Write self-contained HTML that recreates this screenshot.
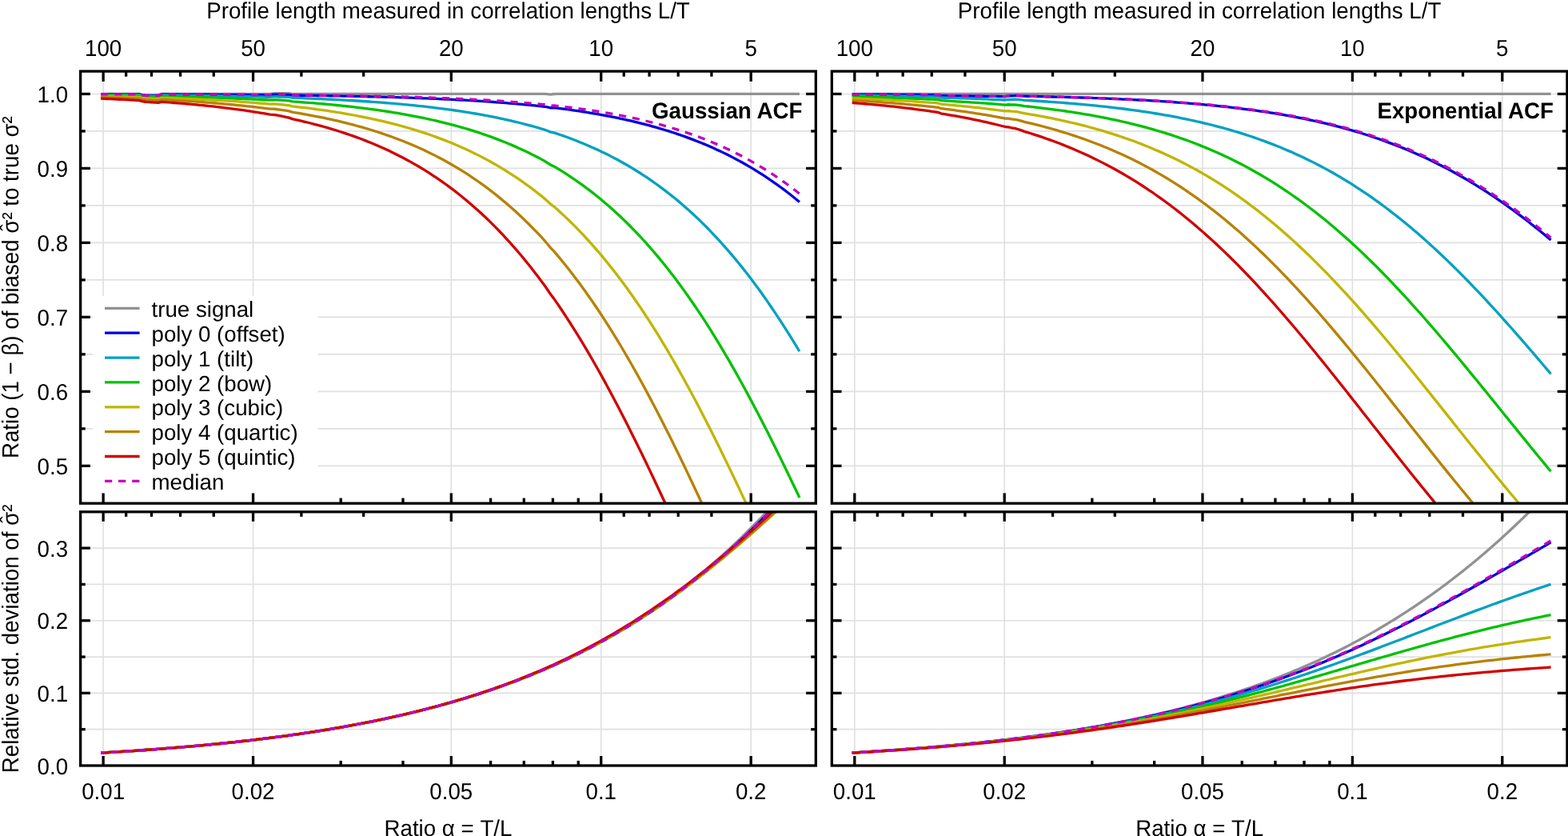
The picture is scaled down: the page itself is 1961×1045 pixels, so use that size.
<!DOCTYPE html>
<html lang="en"><head><meta charset="utf-8"><title>Variance bias vs. T/L</title>
<style>html,body{margin:0;padding:0;background:#fff}svg{display:block}</style></head>
<body>
<svg width="1961" height="1045" viewBox="0 0 1961 1045" font-family='"Liberation Sans", sans-serif' font-size="27.7" fill="#000" text-rendering="geometricPrecision">
<rect width="1961" height="1045" fill="#fff"/>
<defs>
<clipPath id="ct0"><rect x="100.65" y="89.10" width="919.65" height="540.10"/></clipPath>
<clipPath id="cb0"><rect x="100.65" y="639.80" width="919.65" height="317.20"/></clipPath>
<clipPath id="ct1"><rect x="1040.30" y="89.10" width="919.65" height="540.10"/></clipPath>
<clipPath id="cb1"><rect x="1040.30" y="639.80" width="919.65" height="317.20"/></clipPath>
</defs>
<line x1="129.14" y1="89.1" x2="129.14" y2="629.2" stroke="#e0e0e0" stroke-width="1.65"/>
<line x1="129.14" y1="639.8" x2="129.14" y2="957" stroke="#e0e0e0" stroke-width="1.65"/>
<line x1="316.56" y1="89.1" x2="316.56" y2="629.2" stroke="#e0e0e0" stroke-width="1.65"/>
<line x1="316.56" y1="639.8" x2="316.56" y2="957" stroke="#e0e0e0" stroke-width="1.65"/>
<line x1="564.31" y1="89.1" x2="564.31" y2="629.2" stroke="#e0e0e0" stroke-width="1.65"/>
<line x1="564.31" y1="639.8" x2="564.31" y2="957" stroke="#e0e0e0" stroke-width="1.65"/>
<line x1="751.73" y1="89.1" x2="751.73" y2="629.2" stroke="#e0e0e0" stroke-width="1.65"/>
<line x1="751.73" y1="639.8" x2="751.73" y2="957" stroke="#e0e0e0" stroke-width="1.65"/>
<line x1="939.15" y1="89.1" x2="939.15" y2="629.2" stroke="#e0e0e0" stroke-width="1.65"/>
<line x1="939.15" y1="639.8" x2="939.15" y2="957" stroke="#e0e0e0" stroke-width="1.65"/>
<line x1="100.65" y1="582.35" x2="1020.3" y2="582.35" stroke="#e0e0e0" stroke-width="1.65"/>
<line x1="100.65" y1="535.86" x2="1020.3" y2="535.86" stroke="#e0e0e0" stroke-width="1.65"/>
<line x1="100.65" y1="489.37" x2="1020.3" y2="489.37" stroke="#e0e0e0" stroke-width="1.65"/>
<line x1="100.65" y1="442.88" x2="1020.3" y2="442.88" stroke="#e0e0e0" stroke-width="1.65"/>
<line x1="100.65" y1="396.39" x2="1020.3" y2="396.39" stroke="#e0e0e0" stroke-width="1.65"/>
<line x1="100.65" y1="349.9" x2="1020.3" y2="349.9" stroke="#e0e0e0" stroke-width="1.65"/>
<line x1="100.65" y1="303.41" x2="1020.3" y2="303.41" stroke="#e0e0e0" stroke-width="1.65"/>
<line x1="100.65" y1="256.92" x2="1020.3" y2="256.92" stroke="#e0e0e0" stroke-width="1.65"/>
<line x1="100.65" y1="210.43" x2="1020.3" y2="210.43" stroke="#e0e0e0" stroke-width="1.65"/>
<line x1="100.65" y1="163.94" x2="1020.3" y2="163.94" stroke="#e0e0e0" stroke-width="1.65"/>
<line x1="100.65" y1="117.45" x2="1020.3" y2="117.45" stroke="#e0e0e0" stroke-width="1.65"/>
<line x1="100.65" y1="911.69" x2="1020.3" y2="911.69" stroke="#e0e0e0" stroke-width="1.65"/>
<line x1="100.65" y1="866.37" x2="1020.3" y2="866.37" stroke="#e0e0e0" stroke-width="1.65"/>
<line x1="100.65" y1="821.06" x2="1020.3" y2="821.06" stroke="#e0e0e0" stroke-width="1.65"/>
<line x1="100.65" y1="775.74" x2="1020.3" y2="775.74" stroke="#e0e0e0" stroke-width="1.65"/>
<line x1="100.65" y1="730.43" x2="1020.3" y2="730.43" stroke="#e0e0e0" stroke-width="1.65"/>
<line x1="100.65" y1="685.11" x2="1020.3" y2="685.11" stroke="#e0e0e0" stroke-width="1.65"/>
<polyline points="126.04,117.45 130.03,117.45 134.02,117.45 138.01,117.45 142.00,117.45 145.99,117.45 149.98,117.45 153.97,117.45 157.96,117.45 161.95,117.45 165.94,117.45 169.93,117.45 173.92,117.45 177.91,118.34 181.90,118.85 185.89,118.85 189.88,118.85 193.87,118.85 197.86,118.85 201.85,117.52 205.84,117.45 209.83,117.45 213.82,117.45 217.81,117.45 221.80,117.45 225.79,117.45 229.78,117.45 233.77,117.45 237.76,117.45 241.75,117.45 245.74,117.45 249.73,117.45 253.72,117.45 257.71,117.45 261.70,117.45 265.70,117.45 269.69,117.45 273.68,117.45 277.67,117.45 281.66,117.45 285.65,117.45 289.64,117.45 293.63,117.45 297.62,117.45 301.61,117.45 305.60,117.45 309.59,117.45 313.58,117.45 317.57,117.45 321.56,117.45 325.55,117.45 329.54,117.45 333.53,117.45 337.52,117.45 341.51,116.86 345.50,116.75 349.49,116.75 353.48,116.75 357.47,116.75 361.46,116.75 365.45,117.45 369.44,117.45 373.43,117.45 377.42,117.45 381.41,117.45 385.40,117.45 389.39,117.45 393.38,117.45 397.37,117.45 401.36,117.45 405.35,117.45 409.34,117.45 413.33,117.45 417.32,117.45 421.31,117.45 425.30,117.45 429.29,117.45 433.28,117.45 437.27,117.45 441.26,117.45 445.25,117.45 449.24,117.45 453.23,117.45 457.22,117.45 461.21,117.45 465.20,117.45 469.19,117.45 473.19,117.45 477.18,117.45 481.17,117.45 485.16,117.45 489.15,117.45 493.14,117.45 497.13,117.45 501.12,117.45 505.11,117.45 509.10,117.45 513.09,117.45 517.08,117.45 521.07,117.45 525.06,117.45 529.05,117.45 533.04,117.45 537.03,117.45 541.02,117.45 545.01,117.45 549.00,117.45 552.99,117.45 556.98,117.45 560.97,117.45 564.96,117.45 568.95,117.45 572.94,117.45 576.93,117.45 580.92,117.45 584.91,117.45 588.90,117.45 592.89,117.45 596.88,117.45 600.87,117.45 604.86,117.45 608.85,117.45 612.84,117.45 616.83,117.45 620.82,117.45 624.81,117.45 628.80,117.45 632.79,117.45 636.78,117.45 640.77,117.45 644.76,117.45 648.75,117.45 652.74,117.45 656.73,117.45 660.72,117.45 664.71,117.45 668.70,117.45 672.69,117.45 676.68,117.45 680.68,117.45 684.67,117.70 688.66,118.05 692.65,117.50 696.64,117.45 700.63,117.45 704.62,117.45 708.61,117.45 712.60,117.45 716.59,117.45 720.58,117.45 724.57,117.45 728.56,117.45 732.55,117.45 736.54,117.45 740.53,117.45 744.52,117.45 748.51,117.45 752.50,117.45 756.49,117.45 760.48,117.45 764.47,117.45 768.46,117.45 772.45,117.45 776.44,117.45 780.43,117.45 784.42,117.45 788.41,117.45 792.40,117.45 796.39,117.45 800.38,117.45 804.37,117.45 808.36,117.45 812.35,117.45 816.34,117.45 820.33,117.45 824.32,117.45 828.31,117.45 832.30,117.45 836.29,117.45 840.28,117.45 844.27,117.45 848.26,117.45 852.25,117.45 856.24,117.45 860.23,117.45 864.22,117.45 868.21,117.45 872.20,117.45 876.19,117.45 880.18,117.45 884.17,117.45 888.17,117.45 892.16,117.45 896.15,117.45 900.14,117.45 904.13,117.45 908.12,117.45 912.11,117.45 916.10,117.45 920.09,117.45 924.08,117.45 928.07,117.45 932.06,117.45 936.05,117.45 940.04,117.45 944.03,117.45 948.02,117.45 952.01,117.45 956.00,117.45 959.99,117.45 963.98,117.45 967.97,117.45 971.96,117.45 975.95,117.45 979.94,117.45 983.93,117.45 987.92,117.45 991.91,117.45 995.90,117.45 999.89,117.45" fill="none" stroke="#919191" stroke-width="3.3" stroke-linejoin="round" clip-path="url(#ct0)"/>
<polyline points="126.04,117.73 130.03,117.74 134.02,117.75 138.01,117.76 142.00,117.77 145.99,117.78 149.98,117.79 153.97,117.80 157.96,117.81 161.95,117.82 165.94,117.83 169.93,117.84 173.92,117.85 177.91,118.76 181.90,119.28 185.89,119.29 189.88,119.30 193.87,119.31 197.86,119.33 201.85,118.01 205.84,117.96 209.83,117.97 213.82,117.99 217.81,118.00 221.80,118.02 225.79,118.04 229.78,118.05 233.77,118.07 237.76,118.09 241.75,118.11 245.74,118.13 249.73,118.15 253.72,118.17 257.71,118.19 261.70,118.21 265.70,118.24 269.69,118.26 273.68,118.28 277.67,118.31 281.66,118.33 285.65,118.36 289.64,118.39 293.63,118.42 297.62,118.44 301.61,118.47 305.60,118.50 309.59,118.54 313.58,118.57 317.57,118.60 321.56,118.63 325.55,118.67 329.54,118.71 333.53,118.74 337.52,118.78 341.51,118.24 345.50,118.16 349.49,118.20 353.48,118.25 357.47,118.29 361.46,118.34 365.45,119.08 369.44,119.13 373.43,119.18 377.42,119.23 381.41,119.28 385.40,119.34 389.39,119.39 393.38,119.45 397.37,119.51 401.36,119.57 405.35,119.63 409.34,119.70 413.33,119.76 417.32,119.83 421.31,119.90 425.30,119.97 429.29,120.05 433.28,120.13 437.27,120.20 441.26,120.28 445.25,120.37 449.24,120.45 453.23,120.54 457.22,120.63 461.21,120.73 465.20,120.82 469.19,120.92 473.19,121.02 477.18,121.13 481.17,121.24 485.16,121.35 489.15,121.46 493.14,121.58 497.13,121.70 501.12,121.82 505.11,121.95 509.10,122.08 513.09,122.22 517.08,122.36 521.07,122.50 525.06,122.65 529.05,122.80 533.04,122.96 537.03,123.12 541.02,123.28 545.01,123.45 549.00,123.63 552.99,123.81 556.98,123.99 560.97,124.18 564.96,124.38 568.95,124.58 572.94,124.79 576.93,125.00 580.92,125.22 584.91,125.44 588.90,125.68 592.89,125.91 596.88,126.16 600.87,126.41 604.86,126.67 608.85,126.94 612.84,127.21 616.83,127.49 620.82,127.78 624.81,128.08 628.80,128.39 632.79,128.70 636.78,129.03 640.77,129.36 644.76,129.70 648.75,130.06 652.74,130.42 656.73,130.79 660.72,131.17 664.71,131.57 668.70,131.97 672.69,132.39 676.68,132.81 680.68,133.25 684.67,133.96 688.66,134.77 692.65,134.70 696.64,135.14 700.63,135.64 704.62,136.16 708.61,136.69 712.60,137.24 716.59,137.80 720.58,138.37 724.57,138.97 728.56,139.58 732.55,140.20 736.54,140.84 740.53,141.51 744.52,142.18 748.51,142.88 752.50,143.60 756.49,144.33 760.48,145.09 764.47,145.86 768.46,146.66 772.45,147.48 776.44,148.32 780.43,149.18 784.42,150.06 788.41,150.97 792.40,151.91 796.39,152.86 800.38,153.85 804.37,154.86 808.36,155.89 812.35,156.96 816.34,158.05 820.33,159.17 824.32,160.32 828.31,161.50 832.30,162.71 836.29,163.95 840.28,165.22 844.27,166.53 848.26,167.87 852.25,169.25 856.24,170.66 860.23,172.10 864.22,173.59 868.21,175.11 872.20,176.67 876.19,178.26 880.18,179.90 884.17,181.58 888.17,183.31 892.16,185.07 896.15,186.88 900.14,188.73 904.13,190.63 908.12,192.58 912.11,194.57 916.10,196.61 920.09,198.70 924.08,200.85 928.07,203.04 932.06,205.29 936.05,207.58 940.04,209.94 944.03,212.35 948.02,214.81 952.01,217.34 956.00,219.92 959.99,222.56 963.98,225.26 967.97,228.03 971.96,230.85 975.95,233.74 979.94,236.70 983.93,239.72 987.92,242.81 991.91,245.96 995.90,249.19 999.89,252.48" fill="none" stroke="#0000e0" stroke-width="3.3" stroke-linejoin="round" clip-path="url(#ct0)"/>
<polyline points="126.04,118.29 130.03,118.32 134.02,118.34 138.01,118.37 142.00,118.39 145.99,118.42 149.98,118.45 153.97,118.48 157.96,118.51 161.95,118.54 165.94,118.58 169.93,118.61 173.92,118.64 177.91,119.57 181.90,120.12 185.89,120.15 189.88,120.19 193.87,120.23 197.86,120.27 201.85,118.98 205.84,118.96 209.83,119.00 213.82,119.05 217.81,119.09 221.80,119.14 225.79,119.19 229.78,119.25 233.77,119.30 237.76,119.35 241.75,119.41 245.74,119.47 249.73,119.53 253.72,119.59 257.71,119.65 261.70,119.72 265.70,119.78 269.69,119.85 273.68,119.92 277.67,119.99 281.66,120.07 285.65,120.15 289.64,120.23 293.63,120.31 297.62,120.39 301.61,120.48 305.60,120.57 309.59,120.66 313.58,120.75 317.57,120.85 321.56,120.95 325.55,121.05 329.54,121.16 333.53,121.27 337.52,121.38 341.51,120.91 345.50,120.91 349.49,121.03 353.48,121.16 357.47,121.29 361.46,121.42 365.45,122.26 369.44,122.40 373.43,122.54 377.42,122.69 381.41,122.85 385.40,123.00 389.39,123.17 393.38,123.33 397.37,123.50 401.36,123.68 405.35,123.86 409.34,124.05 413.33,124.24 417.32,124.44 421.31,124.64 425.30,124.85 429.29,125.07 433.28,125.29 437.27,125.51 441.26,125.75 445.25,125.99 449.24,126.24 453.23,126.49 457.22,126.75 461.21,127.02 465.20,127.30 469.19,127.58 473.19,127.88 477.18,128.18 481.17,128.49 485.16,128.81 489.15,129.13 493.14,129.47 497.13,129.82 501.12,130.17 505.11,130.54 509.10,130.91 513.09,131.30 517.08,131.70 521.07,132.11 525.06,132.53 529.05,132.96 533.04,133.40 537.03,133.86 541.02,134.33 545.01,134.81 549.00,135.31 552.99,135.82 556.98,136.34 560.97,136.88 564.96,137.43 568.95,138.00 572.94,138.58 576.93,139.18 580.92,139.80 584.91,140.43 588.90,141.08 592.89,141.75 596.88,142.44 600.87,143.14 604.86,143.87 608.85,144.61 612.84,145.38 616.83,146.16 620.82,146.97 624.81,147.80 628.80,148.65 632.79,149.52 636.78,150.42 640.77,151.34 644.76,152.29 648.75,153.26 652.74,154.25 656.73,155.28 660.72,156.33 664.71,157.41 668.70,158.51 672.69,159.65 676.68,160.81 680.68,162.01 684.67,163.49 688.66,165.10 692.65,165.84 696.64,167.12 700.63,168.48 704.62,169.87 708.61,171.31 712.60,172.78 716.59,174.28 720.58,175.83 724.57,177.41 728.56,179.04 732.55,180.70 736.54,182.41 740.53,184.16 744.52,185.95 748.51,187.79 752.50,189.68 756.49,191.61 760.48,193.59 764.47,195.62 768.46,197.70 772.45,199.83 776.44,202.01 780.43,204.24 784.42,206.53 788.41,208.88 792.40,211.28 796.39,213.73 800.38,216.25 804.37,218.82 808.36,221.46 812.35,224.15 816.34,226.91 820.33,229.74 824.32,232.63 828.31,235.58 832.30,238.60 836.29,241.69 840.28,244.85 844.27,248.08 848.26,251.39 852.25,254.76 856.24,258.21 860.23,261.74 864.22,265.34 868.21,269.02 872.20,272.78 876.19,276.61 880.18,280.53 884.17,284.53 888.17,288.61 892.16,292.77 896.15,297.02 900.14,301.36 904.13,305.78 908.12,310.29 912.11,314.88 916.10,319.57 920.09,324.34 924.08,329.21 928.07,334.16 932.06,339.21 936.05,344.35 940.04,349.58 944.03,354.91 948.02,360.33 952.01,365.84 956.00,371.44 959.99,377.14 963.98,382.94 967.97,388.83 971.96,394.80 975.95,400.88 979.94,407.05 983.93,413.31 987.92,419.66 991.91,426.10 995.90,432.63 999.89,439.26" fill="none" stroke="#00a1c1" stroke-width="3.3" stroke-linejoin="round" clip-path="url(#ct0)"/>
<polyline points="126.04,119.12 130.03,119.17 134.02,119.22 138.01,119.27 142.00,119.32 145.99,119.38 149.98,119.44 153.97,119.50 157.96,119.56 161.95,119.62 165.94,119.68 169.93,119.75 173.92,119.82 177.91,120.78 181.90,121.36 185.89,121.43 189.88,121.51 193.87,121.59 197.86,121.67 201.85,120.42 205.84,120.43 209.83,120.52 213.82,120.61 217.81,120.71 221.80,120.80 225.79,120.90 229.78,121.00 233.77,121.10 237.76,121.21 241.75,121.32 245.74,121.44 249.73,121.55 253.72,121.67 257.71,121.80 261.70,121.92 265.70,122.05 269.69,122.19 273.68,122.33 277.67,122.47 281.66,122.62 285.65,122.77 289.64,122.92 293.63,123.08 297.62,123.25 301.61,123.42 305.60,123.59 309.59,123.77 313.58,123.95 317.57,124.14 321.56,124.34 325.55,124.54 329.54,124.75 333.53,124.96 337.52,125.18 341.51,124.82 345.50,124.93 349.49,125.17 353.48,125.41 357.47,125.66 361.46,125.92 365.45,126.89 369.44,127.16 373.43,127.44 377.42,127.73 381.41,128.03 385.40,128.33 389.39,128.65 393.38,128.97 397.37,129.30 401.36,129.65 405.35,130.00 409.34,130.36 413.33,130.73 417.32,131.11 421.31,131.50 425.30,131.91 429.29,132.32 433.28,132.75 437.27,133.19 441.26,133.64 445.25,134.10 449.24,134.58 453.23,135.07 457.22,135.57 461.21,136.09 465.20,136.62 469.19,137.16 473.19,137.72 477.18,138.30 481.17,138.89 485.16,139.50 489.15,140.13 493.14,140.77 497.13,141.43 501.12,142.11 505.11,142.80 509.10,143.52 513.09,144.26 517.08,145.01 521.07,145.79 525.06,146.58 529.05,147.40 533.04,148.24 537.03,149.11 541.02,149.99 545.01,150.90 549.00,151.84 552.99,152.80 556.98,153.78 560.97,154.79 564.96,155.83 568.95,156.90 572.94,157.99 576.93,159.12 580.92,160.27 584.91,161.45 588.90,162.67 592.89,163.91 596.88,165.19 600.87,166.50 604.86,167.85 608.85,169.23 612.84,170.65 616.83,172.10 620.82,173.59 624.81,175.12 628.80,176.69 632.79,178.30 636.78,179.94 640.77,181.63 644.76,183.37 648.75,185.15 652.74,186.97 656.73,188.83 660.72,190.75 664.71,192.71 668.70,194.72 672.69,196.78 676.68,198.89 680.68,201.05 684.67,203.51 688.66,206.13 692.65,207.91 696.64,210.23 700.63,212.67 704.62,215.16 708.61,217.72 712.60,220.33 716.59,223.01 720.58,225.74 724.57,228.54 728.56,231.41 732.55,234.35 736.54,237.34 740.53,240.41 744.52,243.55 748.51,246.76 752.50,250.04 756.49,253.39 760.48,256.82 764.47,260.33 768.46,263.90 772.45,267.56 776.44,271.30 780.43,275.12 784.42,279.01 788.41,282.99 792.40,287.06 796.39,291.20 800.38,295.43 804.37,299.75 808.36,304.16 812.35,308.65 816.34,313.23 820.33,317.91 824.32,322.67 828.31,327.52 832.30,332.47 836.29,337.51 840.28,342.64 844.27,347.87 848.26,353.19 852.25,358.61 856.24,364.13 860.23,369.73 864.22,375.44 868.21,381.24 872.20,387.14 876.19,393.13 880.18,399.22 884.17,405.42 888.17,411.70 892.16,418.08 896.15,424.55 900.14,431.13 904.13,437.79 908.12,444.55 912.11,451.40 916.10,458.35 920.09,465.38 924.08,472.50 928.07,479.71 932.06,487.01 936.05,494.39 940.04,501.85 944.03,509.40 948.02,517.02 952.01,524.72 956.00,532.49 959.99,540.33 963.98,548.25 967.97,556.22 971.96,564.25 975.95,572.36 979.94,580.51 983.93,588.71 987.92,596.95 991.91,605.24 995.90,613.58 999.89,621.96" fill="none" stroke="#00c100" stroke-width="3.3" stroke-linejoin="round" clip-path="url(#ct0)"/>
<polyline points="126.04,120.21 130.03,120.29 134.02,120.37 138.01,120.46 142.00,120.55 145.99,120.64 149.98,120.73 153.97,120.83 157.96,120.93 161.95,121.03 165.94,121.14 169.93,121.25 173.92,121.36 177.91,122.36 181.90,122.99 185.89,123.11 189.88,123.24 193.87,123.36 197.86,123.50 201.85,122.30 205.84,122.37 209.83,122.52 213.82,122.66 217.81,122.82 221.80,122.97 225.79,123.14 229.78,123.30 233.77,123.47 237.76,123.65 241.75,123.83 245.74,124.01 249.73,124.21 253.72,124.40 257.71,124.60 261.70,124.81 265.70,125.03 269.69,125.25 273.68,125.47 277.67,125.71 281.66,125.95 285.65,126.19 289.64,126.45 293.63,126.71 297.62,126.97 301.61,127.25 305.60,127.53 309.59,127.83 313.58,128.13 317.57,128.43 321.56,128.75 325.55,129.08 329.54,129.41 333.53,129.76 337.52,130.11 341.51,129.89 345.50,130.15 349.49,130.54 353.48,130.93 357.47,131.34 361.46,131.76 365.45,132.89 369.44,133.33 373.43,133.78 377.42,134.25 381.41,134.73 385.40,135.23 389.39,135.73 393.38,136.25 397.37,136.79 401.36,137.34 405.35,137.91 409.34,138.49 413.33,139.09 417.32,139.70 421.31,140.33 425.30,140.98 429.29,141.65 433.28,142.33 437.27,143.03 441.26,143.75 445.25,144.50 449.24,145.26 453.23,146.04 457.22,146.85 461.21,147.67 465.20,148.52 469.19,149.39 473.19,150.28 477.18,151.20 481.17,152.15 485.16,153.11 489.15,154.11 493.14,155.13 497.13,156.18 501.12,157.25 505.11,158.36 509.10,159.49 513.09,160.65 517.08,161.85 521.07,163.07 525.06,164.33 529.05,165.62 533.04,166.94 537.03,168.30 541.02,169.69 545.01,171.12 549.00,172.59 552.99,174.09 556.98,175.63 560.97,177.22 564.96,178.84 568.95,180.50 572.94,182.21 576.93,183.95 580.92,185.75 584.91,187.58 588.90,189.47 592.89,191.40 596.88,193.38 600.87,195.40 604.86,197.48 608.85,199.61 612.84,201.79 616.83,204.02 620.82,206.31 624.81,208.65 628.80,211.05 632.79,213.51 636.78,216.03 640.77,218.60 644.76,221.24 648.75,223.94 652.74,226.70 656.73,229.53 660.72,232.42 664.71,235.38 668.70,238.40 672.69,241.50 676.68,244.66 680.68,247.90 684.67,251.46 688.66,255.19 692.65,258.10 696.64,261.58 700.63,265.19 704.62,268.88 708.61,272.65 712.60,276.50 716.59,280.43 720.58,284.44 724.57,288.54 728.56,292.73 732.55,297.00 736.54,301.35 740.53,305.79 744.52,310.33 748.51,314.95 752.50,319.66 756.49,324.47 760.48,329.37 764.47,334.36 768.46,339.44 772.45,344.62 776.44,349.89 780.43,355.26 784.42,360.73 788.41,366.29 792.40,371.95 796.39,377.71 800.38,383.56 804.37,389.51 808.36,395.57 812.35,401.71 816.34,407.95 820.33,414.30 824.32,420.74 828.31,427.28 832.30,433.91 836.29,440.64 840.28,447.46 844.27,454.38 848.26,461.39 852.25,468.49 856.24,475.69 860.23,482.97 864.22,490.33 868.21,497.79 872.20,505.34 876.19,512.95 880.18,520.66 884.17,528.44 888.17,536.30 892.16,544.22 896.15,552.22 900.14,560.29 904.13,568.42 908.12,576.61 912.11,584.86 916.10,593.17 920.09,601.52 924.08,609.91 928.07,618.35 932.06,626.83 936.05,635.34 940.04,643.87 944.03,652.44 948.02,661.02 952.01,669.62 956.00,678.21 959.99,686.82 963.98,695.43 967.97,704.02 971.96,712.59 975.95,721.16 979.94,729.70 983.93,738.20 987.92,746.65 991.91,755.06 995.90,763.44 999.89,771.77" fill="none" stroke="#c1b500" stroke-width="3.3" stroke-linejoin="round" clip-path="url(#ct0)"/>
<polyline points="126.04,121.56 130.03,121.68 134.02,121.80 138.01,121.93 142.00,122.06 145.99,122.20 149.98,122.34 153.97,122.48 157.96,122.63 161.95,122.78 165.94,122.93 169.93,123.09 173.92,123.26 177.91,124.32 181.90,125.00 185.89,125.18 189.88,125.37 193.87,125.56 197.86,125.75 201.85,124.62 205.84,124.76 209.83,124.97 213.82,125.19 217.81,125.41 221.80,125.65 225.79,125.88 229.78,126.13 233.77,126.38 237.76,126.64 241.75,126.90 245.74,127.18 249.73,127.46 253.72,127.75 257.71,128.05 261.70,128.35 265.70,128.67 269.69,128.99 273.68,129.32 277.67,129.67 281.66,130.02 285.65,130.38 289.64,130.75 293.63,131.14 297.62,131.53 301.61,131.93 305.60,132.35 309.59,132.78 313.58,133.21 317.57,133.67 321.56,134.13 325.55,134.61 329.54,135.10 333.53,135.60 337.52,136.12 341.51,136.07 345.50,136.50 349.49,137.06 353.48,137.64 357.47,138.23 361.46,138.84 365.45,140.17 369.44,140.81 373.43,141.47 377.42,142.15 381.41,142.85 385.40,143.57 389.39,144.31 393.38,145.06 397.37,145.84 401.36,146.64 405.35,147.46 409.34,148.30 413.33,149.17 417.32,150.05 421.31,150.97 425.30,151.90 429.29,152.86 433.28,153.85 437.27,154.87 441.26,155.91 445.25,156.98 449.24,158.07 453.23,159.20 457.22,160.35 461.21,161.54 465.20,162.76 469.19,164.01 473.19,165.29 477.18,166.60 481.17,167.95 485.16,169.34 489.15,170.76 493.14,172.21 497.13,173.71 501.12,175.24 505.11,176.81 509.10,178.43 513.09,180.08 517.08,181.77 521.07,183.51 525.06,185.29 529.05,187.12 533.04,188.99 537.03,190.91 541.02,192.88 545.01,194.89 549.00,196.96 552.99,199.07 556.98,201.24 560.97,203.46 564.96,205.74 568.95,208.07 572.94,210.46 576.93,212.90 580.92,215.40 584.91,217.96 588.90,220.58 592.89,223.27 596.88,226.01 600.87,228.83 604.86,231.70 608.85,234.64 612.84,237.65 616.83,240.74 620.82,243.89 624.81,247.10 628.80,250.40 632.79,253.76 636.78,257.21 640.77,260.72 644.76,264.32 648.75,267.99 652.74,271.74 656.73,275.57 660.72,279.49 664.71,283.48 668.70,287.56 672.69,291.73 676.68,295.98 680.68,300.32 684.67,305.00 688.66,309.86 692.65,313.92 696.64,318.56 700.63,323.35 704.62,328.22 708.61,333.20 712.60,338.27 716.59,343.43 720.58,348.68 724.57,354.04 728.56,359.49 732.55,365.04 736.54,370.68 740.53,376.42 744.52,382.26 748.51,388.20 752.50,394.23 756.49,400.37 760.48,406.61 764.47,412.94 768.46,419.36 772.45,425.89 776.44,432.52 780.43,439.23 784.42,446.05 788.41,452.96 792.40,459.97 796.39,467.07 800.38,474.25 804.37,481.54 808.36,488.91 812.35,496.37 816.34,503.91 820.33,511.54 824.32,519.25 828.31,527.04 832.30,534.90 836.29,542.85 840.28,550.86 844.27,558.94 848.26,567.09 852.25,575.31 856.24,583.58 860.23,591.90 864.22,600.29 868.21,608.72 872.20,617.20 876.19,625.71 880.18,634.26 884.17,642.85 888.17,651.46 892.16,660.08 896.15,668.73 900.14,677.40 904.13,686.06 908.12,694.72 912.11,703.39 916.10,712.05 920.09,720.68 924.08,729.29 928.07,737.88 932.06,746.43 936.05,754.94 940.04,763.40 944.03,771.81 948.02,780.17 952.01,788.46 956.00,796.66 959.99,804.81 963.98,812.87 967.97,820.83 971.96,828.68 975.95,836.45 979.94,844.12 983.93,851.66 987.92,859.06 991.91,866.35 995.90,873.53 999.89,880.58" fill="none" stroke="#b88100" stroke-width="3.3" stroke-linejoin="round" clip-path="url(#ct0)"/>
<polyline points="126.04,123.16 130.03,123.32 134.02,123.49 138.01,123.67 142.00,123.85 145.99,124.04 149.98,124.23 153.97,124.43 157.96,124.63 161.95,124.84 165.94,125.06 169.93,125.28 173.92,125.51 177.91,126.63 181.90,127.38 185.89,127.63 189.88,127.88 193.87,128.14 197.86,128.41 201.85,127.36 205.84,127.57 209.83,127.87 213.82,128.17 217.81,128.48 221.80,128.80 225.79,129.12 229.78,129.46 233.77,129.81 237.76,130.16 241.75,130.53 245.74,130.90 249.73,131.29 253.72,131.69 257.71,132.10 261.70,132.52 265.70,132.95 269.69,133.39 273.68,133.85 277.67,134.32 281.66,134.80 285.65,135.30 289.64,135.81 293.63,136.33 297.62,136.87 301.61,137.42 305.60,137.99 309.59,138.57 313.58,139.17 317.57,139.79 321.56,140.42 325.55,141.08 329.54,141.74 333.53,142.43 337.52,143.14 341.51,143.28 345.50,143.91 349.49,144.67 353.48,145.46 357.47,146.26 361.46,147.09 365.45,148.65 369.44,149.52 373.43,150.42 377.42,151.34 381.41,152.29 385.40,153.26 389.39,154.26 393.38,155.28 397.37,156.33 401.36,157.41 405.35,158.52 409.34,159.66 413.33,160.83 417.32,162.03 421.31,163.26 425.30,164.52 429.29,165.81 433.28,167.14 437.27,168.51 441.26,169.90 445.25,171.34 449.24,172.81 453.23,174.32 457.22,175.87 461.21,177.46 465.20,179.09 469.19,180.76 473.19,182.47 477.18,184.23 481.17,186.03 485.16,187.87 489.15,189.76 493.14,191.70 497.13,193.69 501.12,195.72 505.11,197.81 509.10,199.95 513.09,202.14 517.08,204.38 521.07,206.68 525.06,209.03 529.05,211.44 533.04,213.91 537.03,216.43 541.02,219.02 545.01,221.67 549.00,224.38 552.99,227.15 556.98,229.99 560.97,232.89 564.96,235.86 568.95,238.90 572.94,242.01 576.93,245.19 580.92,248.44 584.91,251.77 588.90,255.17 592.89,258.64 596.88,262.19 600.87,265.81 604.86,269.52 608.85,273.31 612.84,277.17 616.83,281.12 620.82,285.16 624.81,289.27 628.80,293.47 632.79,297.76 636.78,302.14 640.77,306.60 644.76,311.15 648.75,315.80 652.74,320.54 656.73,325.36 660.72,330.28 664.71,335.30 668.70,340.41 672.69,345.61 676.68,350.91 680.68,356.31 684.67,362.05 688.66,367.99 692.65,373.13 696.64,378.87 700.63,384.76 704.62,390.74 708.61,396.82 712.60,403.00 716.59,409.28 720.58,415.66 724.57,422.14 728.56,428.71 732.55,435.39 736.54,442.15 740.53,449.02 744.52,455.98 748.51,463.03 752.50,470.17 756.49,477.42 760.48,484.75 764.47,492.17 768.46,499.67 772.45,507.26 776.44,514.94 780.43,522.70 784.42,530.53 788.41,538.45 792.40,546.44 796.39,554.50 800.38,562.63 804.37,570.83 808.36,579.09 812.35,587.40 816.34,595.77 820.33,604.20 824.32,612.68 828.31,621.19 832.30,629.75 836.29,638.35 840.28,646.98 844.27,655.62 848.26,664.29 852.25,672.98 856.24,681.68 860.23,690.37 864.22,699.08 868.21,707.78 872.20,716.47 876.19,725.13 880.18,733.77 884.17,742.39 888.17,750.98 892.16,759.50 896.15,767.99 900.14,776.44 904.13,784.81 908.12,793.11 912.11,801.34 916.10,809.51 920.09,817.57 924.08,825.54 928.07,833.42 932.06,841.20 936.05,848.86 940.04,856.40 944.03,863.83 948.02,871.14 952.01,878.30 956.00,885.32 959.99,892.21 963.98,898.96 967.97,905.55 971.96,911.97 975.95,918.25 979.94,924.38 983.93,930.33 987.92,936.09 991.91,941.70 995.90,947.15 999.89,952.44" fill="none" stroke="#d10000" stroke-width="3.3" stroke-linejoin="round" clip-path="url(#ct0)"/>
<polyline points="126.04,117.73 130.03,117.74 134.02,117.75 138.01,117.76 142.00,117.77 145.99,117.78 149.98,117.79 153.97,117.80 157.96,117.81 161.95,117.82 165.94,117.83 169.93,117.84 173.92,117.85 177.91,118.76 181.90,119.28 185.89,119.29 189.88,119.30 193.87,119.31 197.86,119.33 201.85,118.01 205.84,117.96 209.83,117.97 213.82,117.99 217.81,118.00 221.80,118.02 225.79,118.04 229.78,118.05 233.77,118.07 237.76,118.09 241.75,118.11 245.74,118.13 249.73,118.15 253.72,118.17 257.71,118.19 261.70,118.21 265.70,118.24 269.69,118.26 273.68,118.28 277.67,118.31 281.66,118.33 285.65,118.36 289.64,118.39 293.63,118.42 297.62,118.44 301.61,118.47 305.60,118.50 309.59,118.54 313.58,118.57 317.57,118.60 321.56,118.63 325.55,118.67 329.54,118.69 333.53,118.71 337.52,118.74 341.51,118.18 345.50,118.09 349.49,118.11 353.48,118.14 357.47,118.17 361.46,118.20 365.45,118.93 369.44,118.96 373.43,119.00 377.42,119.03 381.41,119.07 385.40,119.10 389.39,119.14 393.38,119.18 397.37,119.22 401.36,119.27 405.35,119.31 409.34,119.36 413.33,119.40 417.32,119.45 421.31,119.50 425.30,119.56 429.29,119.61 433.28,119.67 437.27,119.72 441.26,119.78 445.25,119.85 449.24,119.91 453.23,119.98 457.22,120.05 461.21,120.12 465.20,120.19 469.19,120.27 473.19,120.34 477.18,120.42 481.17,120.51 485.16,120.59 489.15,120.68 493.14,120.78 497.13,120.87 501.12,120.97 505.11,121.07 509.10,121.18 513.09,121.28 517.08,121.39 521.07,121.51 525.06,121.63 529.05,121.75 533.04,121.88 537.03,122.01 541.02,122.14 545.01,122.28 549.00,122.43 552.99,122.58 556.98,122.73 560.97,122.89 564.96,123.05 568.95,123.22 572.94,123.39 576.93,123.57 580.92,123.75 584.91,123.94 588.90,124.14 592.89,124.34 596.88,124.55 600.87,124.76 604.86,124.98 608.85,125.21 612.84,125.44 616.83,125.69 620.82,125.94 624.81,126.19 628.80,126.46 632.79,126.73 636.78,127.01 640.77,127.30 644.76,127.60 648.75,127.90 652.74,128.22 656.73,128.55 660.72,128.88 664.71,129.23 668.70,129.58 672.69,129.95 676.68,130.33 680.68,130.72 684.67,131.37 688.66,132.13 692.65,132.00 696.64,132.39 700.63,132.84 704.62,133.30 708.61,133.77 712.60,134.26 716.59,134.77 720.58,135.29 724.57,135.82 728.56,136.37 732.55,136.93 736.54,137.51 740.53,138.11 744.52,138.72 748.51,139.35 752.50,140.00 756.49,140.67 760.48,141.36 764.47,142.07 768.46,142.79 772.45,143.54 776.44,144.31 780.43,145.09 784.42,145.90 788.41,146.74 792.40,147.59 796.39,148.47 800.38,149.38 804.37,150.31 808.36,151.26 812.35,152.24 816.34,153.25 820.33,154.29 824.32,155.35 828.31,156.44 832.30,157.56 836.29,158.71 840.28,159.90 844.27,161.11 848.26,162.36 852.25,163.64 856.24,164.95 860.23,166.30 864.22,167.68 868.21,169.10 872.20,170.56 876.19,172.05 880.18,173.58 884.17,175.15 888.17,176.77 892.16,178.42 896.15,180.12 900.14,181.86 904.13,183.64 908.12,185.47 912.11,187.34 916.10,189.26 920.09,191.23 924.08,193.25 928.07,195.31 932.06,197.43 936.05,199.60 940.04,201.82 944.03,204.09 948.02,206.42 952.01,208.81 956.00,211.25 959.99,213.75 963.98,216.31 967.97,218.92 971.96,221.60 975.95,224.34 979.94,227.14 983.93,230.01 987.92,232.93 991.91,235.93 995.90,238.99 999.89,242.12" fill="none" stroke="#c100c1" stroke-width="3.3" stroke-linejoin="round" clip-path="url(#ct0)" stroke-dasharray="9.2 7.9"/>
<polyline points="126.04,941.12 130.03,940.88 134.02,940.64 138.01,940.40 142.00,940.16 145.99,939.91 149.98,939.65 153.97,939.40 157.96,939.14 161.95,938.87 165.94,938.60 169.93,938.33 173.92,938.06 177.91,937.78 181.90,937.49 185.89,937.20 189.88,936.91 193.87,936.61 197.86,936.31 201.85,936.00 205.84,935.69 209.83,935.38 213.82,935.06 217.81,934.74 221.80,934.41 225.79,934.07 229.78,933.73 233.77,933.39 237.76,933.04 241.75,932.69 245.74,932.33 249.73,931.96 253.72,931.59 257.71,931.22 261.70,930.84 265.70,930.45 269.69,930.06 273.68,929.66 277.67,929.26 281.66,928.85 285.65,928.43 289.64,928.01 293.63,927.58 297.62,927.15 301.61,926.71 305.60,926.26 309.59,925.81 313.58,925.35 317.57,924.88 321.56,924.41 325.55,923.93 329.54,923.44 333.53,922.95 337.52,922.44 341.51,921.93 345.50,921.42 349.49,920.89 353.48,920.36 357.47,919.82 361.46,919.28 365.45,918.72 369.44,918.16 373.43,917.58 377.42,917.00 381.41,916.42 385.40,915.82 389.39,915.21 393.38,914.60 397.37,913.97 401.36,913.34 405.35,912.70 409.34,912.05 413.33,911.39 417.32,910.72 421.31,910.04 425.30,909.35 429.29,908.65 433.28,907.94 437.27,907.22 441.26,906.49 445.25,905.75 449.24,905.00 453.23,904.23 457.22,903.46 461.21,902.67 465.20,901.88 469.19,901.07 473.19,900.25 477.18,899.42 481.17,898.58 485.16,897.72 489.15,896.85 493.14,895.97 497.13,895.08 501.12,894.17 505.11,893.26 509.10,892.32 513.09,891.38 517.08,890.42 521.07,889.45 525.06,888.46 529.05,887.46 533.04,886.44 537.03,885.41 541.02,884.37 545.01,883.31 549.00,882.24 552.99,881.15 556.98,880.04 560.97,878.92 564.96,877.78 568.95,876.63 572.94,875.46 576.93,874.27 580.92,873.07 584.91,871.85 588.90,870.61 592.89,869.36 596.88,868.09 600.87,866.79 604.86,865.48 608.85,864.16 612.84,862.81 616.83,861.44 620.82,860.06 624.81,858.66 628.80,857.23 632.79,855.79 636.78,854.32 640.77,852.84 644.76,851.33 648.75,849.81 652.74,848.26 656.73,846.69 660.72,845.10 664.71,843.48 668.70,841.84 672.69,840.19 676.68,838.50 680.68,836.80 684.67,835.07 688.66,833.31 692.65,831.54 696.64,829.73 700.63,827.91 704.62,826.05 708.61,824.18 712.60,822.27 716.59,820.34 720.58,818.38 724.57,816.40 728.56,814.39 732.55,812.35 736.54,810.29 740.53,808.19 744.52,806.07 748.51,803.92 752.50,801.74 756.49,799.52 760.48,797.28 764.47,795.01 768.46,792.71 772.45,790.38 776.44,788.01 780.43,785.62 784.42,783.19 788.41,780.73 792.40,778.24 796.39,775.71 800.38,773.15 804.37,770.56 808.36,767.93 812.35,765.27 816.34,762.57 820.33,759.83 824.32,757.06 828.31,754.26 832.30,751.41 836.29,748.53 840.28,745.62 844.27,742.66 848.26,739.67 852.25,736.63 856.24,733.56 860.23,730.45 864.22,727.30 868.21,724.11 872.20,720.87 876.19,717.60 880.18,714.29 884.17,710.93 888.17,707.53 892.16,704.09 896.15,700.60 900.14,697.07 904.13,693.50 908.12,689.88 912.11,686.22 916.10,682.51 920.09,678.76 924.08,674.96 928.07,671.11 932.06,667.22 936.05,663.28 940.04,659.29 944.03,655.26 948.02,651.17 952.01,647.04 956.00,642.86 959.99,638.63 963.98,634.35 967.97,630.02 971.96,625.64 975.95,621.21 979.94,616.73 983.93,612.19 987.92,607.61 991.91,602.97 995.90,598.28 999.89,593.54" fill="none" stroke="#919191" stroke-width="3.3" stroke-linejoin="round" clip-path="url(#cb0)"/>
<polyline points="126.04,941.12 130.03,940.88 134.02,940.64 138.01,940.40 142.00,940.16 145.99,939.91 149.98,939.65 153.97,939.40 157.96,939.14 161.95,938.87 165.94,938.60 169.93,938.33 173.92,938.06 177.91,937.78 181.90,937.49 185.89,937.20 189.88,936.91 193.87,936.61 197.86,936.31 201.85,936.00 205.84,935.69 209.83,935.38 213.82,935.06 217.81,934.74 221.80,934.41 225.79,934.07 229.78,933.73 233.77,933.39 237.76,933.04 241.75,932.69 245.74,932.33 249.73,931.96 253.72,931.59 257.71,931.22 261.70,930.84 265.70,930.45 269.69,930.06 273.68,929.66 277.67,929.26 281.66,928.85 285.65,928.43 289.64,928.01 293.63,927.58 297.62,927.15 301.61,926.71 305.60,926.26 309.59,925.81 313.58,925.35 317.57,924.88 321.56,924.41 325.55,923.93 329.54,923.44 333.53,922.95 337.52,922.44 341.51,921.93 345.50,921.42 349.49,920.89 353.48,920.36 357.47,919.82 361.46,919.28 365.45,918.72 369.44,918.16 373.43,917.58 377.42,917.01 381.41,916.42 385.40,915.82 389.39,915.21 393.38,914.60 397.37,913.98 401.36,913.34 405.35,912.70 409.34,912.05 413.33,911.39 417.32,910.72 421.31,910.04 425.30,909.35 429.29,908.65 433.28,907.94 437.27,907.22 441.26,906.49 445.25,905.75 449.24,905.00 453.23,904.24 457.22,903.46 461.21,902.68 465.20,901.88 469.19,901.07 473.19,900.25 477.18,899.42 481.17,898.58 485.16,897.72 489.15,896.86 493.14,895.98 497.13,895.08 501.12,894.18 505.11,893.26 509.10,892.33 513.09,891.38 517.08,890.43 521.07,889.45 525.06,888.47 529.05,887.47 533.04,886.45 537.03,885.42 541.02,884.38 545.01,883.32 549.00,882.25 552.99,881.16 556.98,880.05 560.97,878.93 564.96,877.79 568.95,876.64 572.94,875.47 576.93,874.29 580.92,873.08 584.91,871.87 588.90,870.63 592.89,869.37 596.88,868.10 600.87,866.81 604.86,865.50 608.85,864.18 612.84,862.83 616.83,861.47 620.82,860.08 624.81,858.68 628.80,857.26 632.79,855.82 636.78,854.35 640.77,852.87 644.76,851.37 648.75,849.84 652.74,848.30 656.73,846.73 660.72,845.14 664.71,843.53 668.70,841.90 672.69,840.24 676.68,838.56 680.68,836.86 684.67,835.13 688.66,833.38 692.65,831.61 696.64,829.81 700.63,827.99 704.62,826.14 708.61,824.27 712.60,822.37 716.59,820.44 720.58,818.49 724.57,816.52 728.56,814.51 732.55,812.48 736.54,810.43 740.53,808.34 744.52,806.22 748.51,804.08 752.50,801.91 756.49,799.71 760.48,797.48 764.47,795.22 768.46,792.94 772.45,790.62 776.44,788.27 780.43,785.89 784.42,783.48 788.41,781.03 792.40,778.56 796.39,776.05 800.38,773.51 804.37,770.94 808.36,768.33 812.35,765.70 816.34,763.02 820.33,760.32 824.32,757.58 828.31,754.80 832.30,751.99 836.29,749.15 840.28,746.27 844.27,743.35 848.26,740.40 852.25,737.41 856.24,734.38 860.23,731.32 864.22,728.22 868.21,725.09 872.20,721.91 876.19,718.70 880.18,715.46 884.17,712.17 888.17,708.84 892.16,705.48 896.15,702.08 900.14,698.64 904.13,695.16 908.12,691.64 912.11,688.08 916.10,684.49 920.09,680.85 924.08,677.18 928.07,673.47 932.06,669.71 936.05,665.92 940.04,662.09 944.03,658.22 948.02,654.32 952.01,650.37 956.00,646.39 959.99,642.36 963.98,638.30 967.97,634.20 971.96,630.07 975.95,625.90 979.94,621.69 983.93,617.44 987.92,613.16 991.91,608.85 995.90,604.49 999.89,600.11" fill="none" stroke="#0000e0" stroke-width="3.3" stroke-linejoin="round" clip-path="url(#cb0)"/>
<polyline points="126.04,941.12 130.03,940.88 134.02,940.64 138.01,940.40 142.00,940.16 145.99,939.91 149.98,939.65 153.97,939.40 157.96,939.14 161.95,938.87 165.94,938.60 169.93,938.33 173.92,938.06 177.91,937.78 181.90,937.49 185.89,937.20 189.88,936.91 193.87,936.61 197.86,936.31 201.85,936.00 205.84,935.69 209.83,935.38 213.82,935.06 217.81,934.74 221.80,934.41 225.79,934.07 229.78,933.73 233.77,933.39 237.76,933.04 241.75,932.69 245.74,932.33 249.73,931.96 253.72,931.59 257.71,931.22 261.70,930.84 265.70,930.45 269.69,930.06 273.68,929.66 277.67,929.26 281.66,928.85 285.65,928.43 289.64,928.01 293.63,927.58 297.62,927.15 301.61,926.71 305.60,926.26 309.59,925.81 313.58,925.35 317.57,924.88 321.56,924.41 325.55,923.93 329.54,923.44 333.53,922.95 337.52,922.44 341.51,921.93 345.50,921.42 349.49,920.89 353.48,920.36 357.47,919.82 361.46,919.28 365.45,918.72 369.44,918.16 373.43,917.58 377.42,917.00 381.41,916.42 385.40,915.82 389.39,915.21 393.38,914.60 397.37,913.98 401.36,913.34 405.35,912.70 409.34,912.05 413.33,911.39 417.32,910.72 421.31,910.04 425.30,909.35 429.29,908.65 433.28,907.94 437.27,907.22 441.26,906.49 445.25,905.75 449.24,905.00 453.23,904.24 457.22,903.46 461.21,902.68 465.20,901.88 469.19,901.07 473.19,900.25 477.18,899.42 481.17,898.58 485.16,897.72 489.15,896.86 493.14,895.98 497.13,895.08 501.12,894.18 505.11,893.26 509.10,892.33 513.09,891.38 517.08,890.42 521.07,889.45 525.06,888.47 529.05,887.47 533.04,886.45 537.03,885.42 541.02,884.38 545.01,883.32 549.00,882.25 552.99,881.16 556.98,880.05 560.97,878.93 564.96,877.79 568.95,876.64 572.94,875.47 576.93,874.29 580.92,873.09 584.91,871.87 588.90,870.63 592.89,869.38 596.88,868.10 600.87,866.81 604.86,865.51 608.85,864.18 612.84,862.84 616.83,861.47 620.82,860.09 624.81,858.69 628.80,857.27 632.79,855.82 636.78,854.36 640.77,852.88 644.76,851.38 648.75,849.85 652.74,848.31 656.73,846.74 660.72,845.15 664.71,843.54 668.70,841.91 672.69,840.26 676.68,838.58 680.68,836.88 684.67,835.15 688.66,833.41 692.65,831.63 696.64,829.84 700.63,828.02 704.62,826.17 708.61,824.30 712.60,822.41 716.59,820.49 720.58,818.54 724.57,816.57 728.56,814.57 732.55,812.54 736.54,810.49 740.53,808.41 744.52,806.30 748.51,804.17 752.50,802.00 756.49,799.81 760.48,797.59 764.47,795.34 768.46,793.06 772.45,790.75 776.44,788.41 780.43,786.05 784.42,783.65 788.41,781.22 792.40,778.76 796.39,776.27 800.38,773.74 804.37,771.19 808.36,768.60 812.35,765.98 816.34,763.33 820.33,760.65 824.32,757.94 828.31,755.19 832.30,752.41 836.29,749.59 840.28,746.75 844.27,743.87 848.26,740.95 852.25,738.00 856.24,735.02 860.23,732.01 864.22,728.96 868.21,725.87 872.20,722.76 876.19,719.61 880.18,716.42 884.17,713.20 888.17,709.95 892.16,706.66 896.15,703.34 900.14,699.99 904.13,696.60 908.12,693.18 912.11,689.73 916.10,686.25 920.09,682.73 924.08,679.18 928.07,675.60 932.06,671.99 936.05,668.35 940.04,664.67 944.03,660.97 948.02,657.24 952.01,653.48 956.00,649.69 959.99,645.88 963.98,642.03 967.97,638.17 971.96,634.27 975.95,630.36 979.94,626.41 983.93,622.45 987.92,618.47 991.91,614.46 995.90,610.43 999.89,606.38" fill="none" stroke="#00a1c1" stroke-width="3.3" stroke-linejoin="round" clip-path="url(#cb0)"/>
<polyline points="126.04,941.12 130.03,940.88 134.02,940.64 138.01,940.40 142.00,940.16 145.99,939.91 149.98,939.65 153.97,939.40 157.96,939.14 161.95,938.87 165.94,938.60 169.93,938.33 173.92,938.06 177.91,937.77 181.90,937.49 185.89,937.20 189.88,936.91 193.87,936.61 197.86,936.31 201.85,936.00 205.84,935.69 209.83,935.38 213.82,935.06 217.81,934.73 221.80,934.41 225.79,934.07 229.78,933.73 233.77,933.39 237.76,933.04 241.75,932.69 245.74,932.33 249.73,931.96 253.72,931.59 257.71,931.22 261.70,930.84 265.70,930.45 269.69,930.06 273.68,929.66 277.67,929.26 281.66,928.85 285.65,928.43 289.64,928.01 293.63,927.58 297.62,927.15 301.61,926.71 305.60,926.26 309.59,925.81 313.58,925.35 317.57,924.88 321.56,924.41 325.55,923.93 329.54,923.44 333.53,922.94 337.52,922.44 341.51,921.93 345.50,921.42 349.49,920.89 353.48,920.36 357.47,919.82 361.46,919.27 365.45,918.72 369.44,918.15 373.43,917.58 377.42,917.00 381.41,916.41 385.40,915.82 389.39,915.21 393.38,914.60 397.37,913.97 401.36,913.34 405.35,912.70 409.34,912.05 413.33,911.39 417.32,910.72 421.31,910.04 425.30,909.35 429.29,908.65 433.28,907.94 437.27,907.22 441.26,906.49 445.25,905.74 449.24,904.99 453.23,904.23 457.22,903.45 461.21,902.67 465.20,901.87 469.19,901.07 473.19,900.25 477.18,899.41 481.17,898.57 485.16,897.72 489.15,896.85 493.14,895.97 497.13,895.07 501.12,894.17 505.11,893.25 509.10,892.32 513.09,891.37 517.08,890.41 521.07,889.44 525.06,888.45 529.05,887.45 533.04,886.44 537.03,885.41 541.02,884.36 545.01,883.30 549.00,882.23 552.99,881.14 556.98,880.03 560.97,878.91 564.96,877.77 568.95,876.62 572.94,875.45 576.93,874.26 580.92,873.06 584.91,871.84 588.90,870.60 592.89,869.35 596.88,868.07 600.87,866.78 604.86,865.47 608.85,864.14 612.84,862.80 616.83,861.43 620.82,860.05 624.81,858.65 628.80,857.22 632.79,855.78 636.78,854.31 640.77,852.83 644.76,851.33 648.75,849.80 652.74,848.25 656.73,846.69 660.72,845.10 664.71,843.48 668.70,841.85 672.69,840.19 676.68,838.51 680.68,836.81 684.67,835.09 688.66,833.34 692.65,831.56 696.64,829.77 700.63,827.94 704.62,826.10 708.61,824.23 712.60,822.33 716.59,820.41 720.58,818.46 724.57,816.49 728.56,814.48 732.55,812.46 736.54,810.40 740.53,808.32 744.52,806.22 748.51,804.08 752.50,801.92 756.49,799.73 760.48,797.51 764.47,795.26 768.46,792.98 772.45,790.67 776.44,788.34 780.43,785.97 784.42,783.58 788.41,781.15 792.40,778.70 796.39,776.21 800.38,773.70 804.37,771.15 808.36,768.58 812.35,765.97 816.34,763.33 820.33,760.66 824.32,757.96 828.31,755.23 832.30,752.47 836.29,749.67 840.28,746.84 844.27,743.99 848.26,741.10 852.25,738.18 856.24,735.23 860.23,732.24 864.22,729.23 868.21,726.19 872.20,723.11 876.19,720.00 880.18,716.87 884.17,713.70 888.17,710.50 892.16,707.28 896.15,704.02 900.14,700.73 904.13,697.42 908.12,694.08 912.11,690.71 916.10,687.31 920.09,683.89 924.08,680.44 928.07,676.96 932.06,673.46 936.05,669.94 940.04,666.39 944.03,662.82 948.02,659.22 952.01,655.61 956.00,651.97 959.99,648.32 963.98,644.64 967.97,640.94 971.96,637.23 975.95,633.51 979.94,629.76 983.93,626.00 987.92,622.23 991.91,618.45 995.90,614.65 999.89,610.83" fill="none" stroke="#00c100" stroke-width="3.3" stroke-linejoin="round" clip-path="url(#cb0)"/>
<polyline points="126.04,941.12 130.03,940.88 134.02,940.64 138.01,940.40 142.00,940.16 145.99,939.91 149.98,939.65 153.97,939.40 157.96,939.14 161.95,938.87 165.94,938.60 169.93,938.33 173.92,938.05 177.91,937.77 181.90,937.49 185.89,937.20 189.88,936.91 193.87,936.61 197.86,936.31 201.85,936.00 205.84,935.69 209.83,935.38 213.82,935.06 217.81,934.73 221.80,934.41 225.79,934.07 229.78,933.73 233.77,933.39 237.76,933.04 241.75,932.69 245.74,932.33 249.73,931.96 253.72,931.59 257.71,931.22 261.70,930.84 265.70,930.45 269.69,930.06 273.68,929.66 277.67,929.26 281.66,928.85 285.65,928.43 289.64,928.01 293.63,927.58 297.62,927.15 301.61,926.71 305.60,926.26 309.59,925.81 313.58,925.35 317.57,924.88 321.56,924.40 325.55,923.92 329.54,923.44 333.53,922.94 337.52,922.44 341.51,921.93 345.50,921.41 349.49,920.89 353.48,920.36 357.47,919.82 361.46,919.27 365.45,918.71 369.44,918.15 373.43,917.58 377.42,917.00 381.41,916.41 385.40,915.81 389.39,915.20 393.38,914.59 397.37,913.97 401.36,913.33 405.35,912.69 409.34,912.04 413.33,911.38 417.32,910.71 421.31,910.03 425.30,909.34 429.29,908.64 433.28,907.93 437.27,907.20 441.26,906.47 445.25,905.73 449.24,904.98 453.23,904.21 457.22,903.44 461.21,902.65 465.20,901.86 469.19,901.05 473.19,900.23 477.18,899.40 481.17,898.55 485.16,897.69 489.15,896.83 493.14,895.94 497.13,895.05 501.12,894.14 505.11,893.22 509.10,892.29 513.09,891.34 517.08,890.38 521.07,889.41 525.06,888.42 529.05,887.42 533.04,886.40 537.03,885.37 541.02,884.32 545.01,883.26 549.00,882.18 552.99,881.09 556.98,879.98 560.97,878.86 564.96,877.72 568.95,876.56 572.94,875.39 576.93,874.20 580.92,873.00 584.91,871.77 588.90,870.53 592.89,869.27 596.88,868.00 600.87,866.70 604.86,865.39 608.85,864.06 612.84,862.71 616.83,861.34 620.82,859.95 624.81,858.55 628.80,857.12 632.79,855.67 636.78,854.20 640.77,852.71 644.76,851.20 648.75,849.67 652.74,848.12 656.73,846.55 660.72,844.95 664.71,843.34 668.70,841.70 672.69,840.03 676.68,838.35 680.68,836.64 684.67,834.91 688.66,833.15 692.65,831.37 696.64,829.57 700.63,827.74 704.62,825.89 708.61,824.01 712.60,822.11 716.59,820.18 720.58,818.22 724.57,816.24 728.56,814.23 732.55,812.20 736.54,810.14 740.53,808.05 744.52,805.94 748.51,803.80 752.50,801.63 756.49,799.43 760.48,797.20 764.47,794.95 768.46,792.66 772.45,790.35 776.44,788.01 780.43,785.64 784.42,783.24 788.41,780.81 792.40,778.35 796.39,775.86 800.38,773.35 804.37,770.80 808.36,768.22 812.35,765.61 816.34,762.98 820.33,760.31 824.32,757.61 828.31,754.88 832.30,752.12 836.29,749.33 840.28,746.51 844.27,743.67 848.26,740.79 852.25,737.88 856.24,734.94 860.23,731.97 864.22,728.98 868.21,725.95 872.20,722.90 876.19,719.81 880.18,716.70 884.17,713.56 888.17,710.40 892.16,707.20 896.15,703.98 900.14,700.74 904.13,697.46 908.12,694.17 912.11,690.84 916.10,687.50 920.09,684.13 924.08,680.73 928.07,677.32 932.06,673.88 936.05,670.41 940.04,666.93 944.03,663.43 948.02,659.91 952.01,656.37 956.00,652.81 959.99,649.23 963.98,645.64 967.97,642.03 971.96,638.40 975.95,634.76 979.94,631.10 983.93,627.43 987.92,623.75 991.91,620.05 995.90,616.34 999.89,612.62" fill="none" stroke="#c1b500" stroke-width="3.3" stroke-linejoin="round" clip-path="url(#cb0)"/>
<polyline points="126.04,941.12 130.03,940.88 134.02,940.64 138.01,940.40 142.00,940.16 145.99,939.91 149.98,939.65 153.97,939.40 157.96,939.14 161.95,938.87 165.94,938.60 169.93,938.33 173.92,938.05 177.91,937.77 181.90,937.49 185.89,937.20 189.88,936.91 193.87,936.61 197.86,936.31 201.85,936.00 205.84,935.69 209.83,935.38 213.82,935.06 217.81,934.73 221.80,934.40 225.79,934.07 229.78,933.73 233.77,933.39 237.76,933.04 241.75,932.68 245.74,932.32 249.73,931.96 253.72,931.59 257.71,931.21 261.70,930.83 265.70,930.45 269.69,930.05 273.68,929.66 277.67,929.25 281.66,928.84 285.65,928.43 289.64,928.01 293.63,927.58 297.62,927.14 301.61,926.70 305.60,926.26 309.59,925.80 313.58,925.34 317.57,924.87 321.56,924.40 325.55,923.92 329.54,923.43 333.53,922.94 337.52,922.43 341.51,921.92 345.50,921.41 349.49,920.88 353.48,920.35 357.47,919.81 361.46,919.26 365.45,918.71 369.44,918.14 373.43,917.57 377.42,916.99 381.41,916.40 385.40,915.80 389.39,915.19 393.38,914.58 397.37,913.95 401.36,913.32 405.35,912.68 409.34,912.03 413.33,911.36 417.32,910.69 421.31,910.01 425.30,909.32 429.29,908.62 433.28,907.91 437.27,907.19 441.26,906.45 445.25,905.71 449.24,904.96 453.23,904.19 457.22,903.42 461.21,902.63 465.20,901.83 469.19,901.02 473.19,900.20 477.18,899.36 481.17,898.52 485.16,897.66 489.15,896.79 493.14,895.91 497.13,895.01 501.12,894.10 505.11,893.18 509.10,892.24 513.09,891.29 517.08,890.33 521.07,889.35 525.06,888.36 529.05,887.36 533.04,886.34 537.03,885.30 541.02,884.25 545.01,883.19 549.00,882.11 552.99,881.01 556.98,879.90 560.97,878.78 564.96,877.63 568.95,876.47 572.94,875.30 576.93,874.10 580.92,872.89 584.91,871.67 588.90,870.42 592.89,869.16 596.88,867.88 600.87,866.58 604.86,865.26 608.85,863.92 612.84,862.57 616.83,861.19 620.82,859.80 624.81,858.38 628.80,856.95 632.79,855.49 636.78,854.02 640.77,852.52 644.76,851.01 648.75,849.47 652.74,847.91 656.73,846.33 660.72,844.72 664.71,843.10 668.70,841.45 672.69,839.77 676.68,838.08 680.68,836.36 684.67,834.62 688.66,832.85 692.65,831.06 696.64,829.25 700.63,827.41 704.62,825.54 708.61,823.65 712.60,821.74 716.59,819.80 720.58,817.83 724.57,815.84 728.56,813.82 732.55,811.77 736.54,809.70 740.53,807.60 744.52,805.47 748.51,803.31 752.50,801.13 756.49,798.91 760.48,796.67 764.47,794.40 768.46,792.11 772.45,789.78 776.44,787.43 780.43,785.04 784.42,782.63 788.41,780.19 792.40,777.71 796.39,775.21 800.38,772.68 804.37,770.12 808.36,767.53 812.35,764.91 816.34,762.26 820.33,759.58 824.32,756.87 828.31,754.13 832.30,751.36 836.29,748.56 840.28,745.73 844.27,742.88 848.26,739.99 852.25,737.07 856.24,734.13 860.23,731.15 864.22,728.15 868.21,725.12 872.20,722.06 876.19,718.98 880.18,715.86 884.17,712.72 888.17,709.55 892.16,706.36 896.15,703.13 900.14,699.89 904.13,696.61 908.12,693.31 912.11,689.99 916.10,686.64 920.09,683.27 924.08,679.87 928.07,676.45 932.06,673.01 936.05,669.54 940.04,666.06 944.03,662.55 948.02,659.01 952.01,655.46 956.00,651.88 959.99,648.29 963.98,644.67 967.97,641.04 971.96,637.38 975.95,633.70 979.94,630.00 983.93,626.29 987.92,622.55 991.91,618.80 995.90,615.02 999.89,611.23" fill="none" stroke="#b88100" stroke-width="3.3" stroke-linejoin="round" clip-path="url(#cb0)"/>
<polyline points="126.04,941.12 130.03,940.88 134.02,940.64 138.01,940.40 142.00,940.16 145.99,939.91 149.98,939.65 153.97,939.40 157.96,939.13 161.95,938.87 165.94,938.60 169.93,938.33 173.92,938.05 177.91,937.77 181.90,937.49 185.89,937.20 189.88,936.91 193.87,936.61 197.86,936.31 201.85,936.00 205.84,935.69 209.83,935.38 213.82,935.06 217.81,934.73 221.80,934.40 225.79,934.07 229.78,933.73 233.77,933.38 237.76,933.04 241.75,932.68 245.74,932.32 249.73,931.96 253.72,931.59 257.71,931.21 261.70,930.83 265.70,930.44 269.69,930.05 273.68,929.65 277.67,929.25 281.66,928.84 285.65,928.42 289.64,928.00 293.63,927.57 297.62,927.14 301.61,926.70 305.60,926.25 309.59,925.80 313.58,925.34 317.57,924.87 321.56,924.39 325.55,923.91 329.54,923.42 333.53,922.93 337.52,922.43 341.51,921.92 345.50,921.40 349.49,920.87 353.48,920.34 357.47,919.80 361.46,919.25 365.45,918.69 369.44,918.13 373.43,917.56 377.42,916.97 381.41,916.38 385.40,915.79 389.39,915.18 393.38,914.56 397.37,913.94 401.36,913.30 405.35,912.66 409.34,912.01 413.33,911.34 417.32,910.67 421.31,909.99 425.30,909.30 429.29,908.59 433.28,907.88 437.27,907.16 441.26,906.42 445.25,905.68 449.24,904.92 453.23,904.16 457.22,903.38 461.21,902.59 465.20,901.79 469.19,900.98 473.19,900.16 477.18,899.32 481.17,898.47 485.16,897.61 489.15,896.74 493.14,895.85 497.13,894.95 501.12,894.04 505.11,893.12 509.10,892.18 513.09,891.23 517.08,890.26 521.07,889.28 525.06,888.29 529.05,887.28 533.04,886.25 537.03,885.21 541.02,884.16 545.01,883.09 549.00,882.01 552.99,880.91 556.98,879.79 560.97,878.66 564.96,877.51 568.95,876.35 572.94,875.16 576.93,873.97 580.92,872.75 584.91,871.51 588.90,870.26 592.89,868.99 596.88,867.71 600.87,866.40 604.86,865.07 608.85,863.73 612.84,862.36 616.83,860.98 620.82,859.58 624.81,858.16 628.80,856.71 632.79,855.25 636.78,853.76 640.77,852.26 644.76,850.73 648.75,849.18 652.74,847.61 656.73,846.01 660.72,844.40 664.71,842.76 668.70,841.10 672.69,839.41 676.68,837.71 680.68,835.97 684.67,834.22 688.66,832.44 692.65,830.63 696.64,828.80 700.63,826.95 704.62,825.06 708.61,823.16 712.60,821.23 716.59,819.27 720.58,817.28 724.57,815.27 728.56,813.23 732.55,811.17 736.54,809.07 740.53,806.95 744.52,804.80 748.51,802.63 752.50,800.42 756.49,798.19 760.48,795.93 764.47,793.63 768.46,791.32 772.45,788.97 776.44,786.59 780.43,784.18 784.42,781.74 788.41,779.28 792.40,776.78 796.39,774.25 800.38,771.70 804.37,769.11 808.36,766.49 812.35,763.85 816.34,761.17 820.33,758.46 824.32,755.72 828.31,752.96 832.30,750.16 836.29,747.33 840.28,744.47 844.27,741.59 848.26,738.67 852.25,735.72 856.24,732.74 860.23,729.74 864.22,726.70 868.21,723.63 872.20,720.54 876.19,717.41 880.18,714.26 884.17,711.07 888.17,707.86 892.16,704.62 896.15,701.35 900.14,698.05 904.13,694.72 908.12,691.37 912.11,687.98 916.10,684.57 920.09,681.13 924.08,677.66 928.07,674.17 932.06,670.64 936.05,667.09 940.04,663.51 944.03,659.90 948.02,656.26 952.01,652.59 956.00,648.89 959.99,645.17 963.98,641.41 967.97,637.63 971.96,633.81 975.95,629.96 979.94,626.08 983.93,622.17 987.92,618.21 991.91,614.23 995.90,610.21 999.89,606.15" fill="none" stroke="#d10000" stroke-width="3.3" stroke-linejoin="round" clip-path="url(#cb0)"/>
<polyline points="126.04,941.12 130.03,940.88 134.02,940.64 138.01,940.40 142.00,940.16 145.99,939.91 149.98,939.65 153.97,939.40 157.96,939.14 161.95,938.87 165.94,938.60 169.93,938.33 173.92,938.06 177.91,937.78 181.90,937.49 185.89,937.20 189.88,936.91 193.87,936.61 197.86,936.31 201.85,936.00 205.84,935.69 209.83,935.38 213.82,935.06 217.81,934.74 221.80,934.41 225.79,934.07 229.78,933.73 233.77,933.39 237.76,933.04 241.75,932.69 245.74,932.33 249.73,931.96 253.72,931.59 257.71,931.22 261.70,930.84 265.70,930.45 269.69,930.06 273.68,929.66 277.67,929.26 281.66,928.85 285.65,928.43 289.64,928.01 293.63,927.58 297.62,927.15 301.61,926.71 305.60,926.26 309.59,925.81 313.58,925.35 317.57,924.88 321.56,924.41 325.55,923.93 329.54,923.44 333.53,922.95 337.52,922.44 341.51,921.93 345.50,921.42 349.49,920.89 353.48,920.36 357.47,919.82 361.46,919.28 365.45,918.72 369.44,918.16 373.43,917.58 377.42,917.01 381.41,916.42 385.40,915.82 389.39,915.21 393.38,914.60 397.37,913.98 401.36,913.34 405.35,912.70 409.34,912.05 413.33,911.39 417.32,910.72 421.31,910.04 425.30,909.35 429.29,908.65 433.28,907.94 437.27,907.22 441.26,906.49 445.25,905.75 449.24,905.00 453.23,904.24 457.22,903.46 461.21,902.68 465.20,901.88 469.19,901.07 473.19,900.25 477.18,899.42 481.17,898.58 485.16,897.72 489.15,896.86 493.14,895.98 497.13,895.08 501.12,894.18 505.11,893.26 509.10,892.33 513.09,891.38 517.08,890.43 521.07,889.45 525.06,888.47 529.05,887.47 533.04,886.45 537.03,885.42 541.02,884.38 545.01,883.32 549.00,882.25 552.99,881.16 556.98,880.05 560.97,878.93 564.96,877.79 568.95,876.64 572.94,875.47 576.93,874.29 580.92,873.08 584.91,871.87 588.90,870.63 592.89,869.37 596.88,868.10 600.87,866.81 604.86,865.50 608.85,864.18 612.84,862.83 616.83,861.47 620.82,860.08 624.81,858.68 628.80,857.26 632.79,855.82 636.78,854.35 640.77,852.87 644.76,851.37 648.75,849.84 652.74,848.30 656.73,846.73 660.72,845.14 664.71,843.53 668.70,841.90 672.69,840.24 676.68,838.56 680.68,836.86 684.67,835.13 688.66,833.38 692.65,831.61 696.64,829.81 700.63,827.99 704.62,826.14 708.61,824.27 712.60,822.37 716.59,820.44 720.58,818.49 724.57,816.52 728.56,814.51 732.55,812.48 736.54,810.43 740.53,808.34 744.52,806.22 748.51,804.08 752.50,801.91 756.49,799.71 760.48,797.48 764.47,795.22 768.46,792.94 772.45,790.62 776.44,788.27 780.43,785.89 784.42,783.48 788.41,781.03 792.40,778.56 796.39,776.05 800.38,773.51 804.37,770.94 808.36,768.33 812.35,765.70 816.34,763.02 820.33,760.32 824.32,757.58 828.31,754.80 832.30,751.99 836.29,749.15 840.28,746.27 844.27,743.35 848.26,740.40 852.25,737.41 856.24,734.38 860.23,731.32 864.22,728.22 868.21,725.09 872.20,721.91 876.19,718.70 880.18,715.46 884.17,712.17 888.17,708.84 892.16,705.48 896.15,702.08 900.14,698.64 904.13,695.16 908.12,691.64 912.11,688.08 916.10,684.49 920.09,680.85 924.08,677.18 928.07,673.47 932.06,669.71 936.05,665.92 940.04,662.09 944.03,658.22 948.02,654.32 952.01,650.37 956.00,646.39 959.99,642.36 963.98,638.30 967.97,634.20 971.96,630.07 975.95,625.90 979.94,621.69 983.93,617.44 987.92,613.16 991.91,608.85 995.90,604.49 999.89,600.11" fill="none" stroke="#c100c1" stroke-width="3.3" stroke-linejoin="round" clip-path="url(#cb0)" stroke-dasharray="9.2 7.9" stroke-dashoffset="4.3"/>
<rect x="116" y="370" width="281.5" height="250" fill="#fff"/>
<line x1="131" y1="385.3" x2="174.6" y2="385.3" stroke="#919191" stroke-width="3.3"/>
<text transform="translate(189.5,396) scale(1,0.99)">true signal</text>
<line x1="131" y1="416.17" x2="174.6" y2="416.17" stroke="#0000e0" stroke-width="3.3"/>
<text transform="translate(189.5,427) scale(1,0.99)">poly 0 (offset)</text>
<line x1="131" y1="447.04" x2="174.6" y2="447.04" stroke="#00a1c1" stroke-width="3.3"/>
<text transform="translate(189.5,458) scale(1,0.99)">poly 1 (tilt)</text>
<line x1="131" y1="477.91" x2="174.6" y2="477.91" stroke="#00c100" stroke-width="3.3"/>
<text transform="translate(189.5,489) scale(1,0.99)">poly 2 (bow)</text>
<line x1="131" y1="508.78" x2="174.6" y2="508.78" stroke="#c1b500" stroke-width="3.3"/>
<text transform="translate(189.5,519) scale(1,0.99)">poly 3 (cubic)</text>
<line x1="131" y1="539.65" x2="174.6" y2="539.65" stroke="#b88100" stroke-width="3.3"/>
<text transform="translate(189.5,550) scale(1,0.99)">poly 4 (quartic)</text>
<line x1="131" y1="570.52" x2="174.6" y2="570.52" stroke="#d10000" stroke-width="3.3"/>
<text transform="translate(189.5,581) scale(1,0.99)">poly 5 (quintic)</text>
<line x1="131" y1="601.39" x2="174.6" y2="601.39" stroke="#c100c1" stroke-width="3.3" stroke-dasharray="9.2 7.9"/>
<text transform="translate(189.5,612) scale(1,0.99)">median</text>
<line x1="129.14" y1="629.2" x2="129.14" y2="616.45" stroke="#000" stroke-width="3.3"/>
<line x1="316.56" y1="629.2" x2="316.56" y2="616.45" stroke="#000" stroke-width="3.3"/>
<line x1="564.31" y1="629.2" x2="564.31" y2="616.45" stroke="#000" stroke-width="3.3"/>
<line x1="751.73" y1="629.2" x2="751.73" y2="616.45" stroke="#000" stroke-width="3.3"/>
<line x1="939.15" y1="629.2" x2="939.15" y2="616.45" stroke="#000" stroke-width="3.3"/>
<line x1="426.19" y1="629.2" x2="426.19" y2="622.6" stroke="#000" stroke-width="3.3"/>
<line x1="503.98" y1="629.2" x2="503.98" y2="622.6" stroke="#000" stroke-width="3.3"/>
<line x1="613.61" y1="629.2" x2="613.61" y2="622.6" stroke="#000" stroke-width="3.3"/>
<line x1="655.29" y1="629.2" x2="655.29" y2="622.6" stroke="#000" stroke-width="3.3"/>
<line x1="691.4" y1="629.2" x2="691.4" y2="622.6" stroke="#000" stroke-width="3.3"/>
<line x1="723.25" y1="629.2" x2="723.25" y2="622.6" stroke="#000" stroke-width="3.3"/>
<line x1="129.14" y1="89.1" x2="129.14" y2="101.85" stroke="#000" stroke-width="3.3"/>
<line x1="316.56" y1="89.1" x2="316.56" y2="101.85" stroke="#000" stroke-width="3.3"/>
<line x1="564.31" y1="89.1" x2="564.31" y2="101.85" stroke="#000" stroke-width="3.3"/>
<line x1="751.73" y1="89.1" x2="751.73" y2="101.85" stroke="#000" stroke-width="3.3"/>
<line x1="939.15" y1="89.1" x2="939.15" y2="101.85" stroke="#000" stroke-width="3.3"/>
<line x1="157.63" y1="89.1" x2="157.63" y2="95.7" stroke="#000" stroke-width="3.3"/>
<line x1="189.47" y1="89.1" x2="189.47" y2="95.7" stroke="#000" stroke-width="3.3"/>
<line x1="225.58" y1="89.1" x2="225.58" y2="95.7" stroke="#000" stroke-width="3.3"/>
<line x1="267.26" y1="89.1" x2="267.26" y2="95.7" stroke="#000" stroke-width="3.3"/>
<line x1="376.89" y1="89.1" x2="376.89" y2="95.7" stroke="#000" stroke-width="3.3"/>
<line x1="454.68" y1="89.1" x2="454.68" y2="95.7" stroke="#000" stroke-width="3.3"/>
<line x1="780.22" y1="89.1" x2="780.22" y2="95.7" stroke="#000" stroke-width="3.3"/>
<line x1="812.07" y1="89.1" x2="812.07" y2="95.7" stroke="#000" stroke-width="3.3"/>
<line x1="848.18" y1="89.1" x2="848.18" y2="95.7" stroke="#000" stroke-width="3.3"/>
<line x1="889.86" y1="89.1" x2="889.86" y2="95.7" stroke="#000" stroke-width="3.3"/>
<line x1="129.14" y1="957" x2="129.14" y2="945" stroke="#000" stroke-width="3.3"/>
<line x1="316.56" y1="957" x2="316.56" y2="945" stroke="#000" stroke-width="3.3"/>
<line x1="564.31" y1="957" x2="564.31" y2="945" stroke="#000" stroke-width="3.3"/>
<line x1="751.73" y1="957" x2="751.73" y2="945" stroke="#000" stroke-width="3.3"/>
<line x1="939.15" y1="957" x2="939.15" y2="945" stroke="#000" stroke-width="3.3"/>
<line x1="426.19" y1="957" x2="426.19" y2="950.9" stroke="#000" stroke-width="3.3"/>
<line x1="503.98" y1="957" x2="503.98" y2="950.9" stroke="#000" stroke-width="3.3"/>
<line x1="613.61" y1="957" x2="613.61" y2="950.9" stroke="#000" stroke-width="3.3"/>
<line x1="655.29" y1="957" x2="655.29" y2="950.9" stroke="#000" stroke-width="3.3"/>
<line x1="691.4" y1="957" x2="691.4" y2="950.9" stroke="#000" stroke-width="3.3"/>
<line x1="723.25" y1="957" x2="723.25" y2="950.9" stroke="#000" stroke-width="3.3"/>
<line x1="129.14" y1="639.8" x2="129.14" y2="651.8" stroke="#000" stroke-width="3.3"/>
<line x1="316.56" y1="639.8" x2="316.56" y2="651.8" stroke="#000" stroke-width="3.3"/>
<line x1="564.31" y1="639.8" x2="564.31" y2="651.8" stroke="#000" stroke-width="3.3"/>
<line x1="751.73" y1="639.8" x2="751.73" y2="651.8" stroke="#000" stroke-width="3.3"/>
<line x1="939.15" y1="639.8" x2="939.15" y2="651.8" stroke="#000" stroke-width="3.3"/>
<line x1="157.63" y1="639.8" x2="157.63" y2="645.9" stroke="#000" stroke-width="3.3"/>
<line x1="189.47" y1="639.8" x2="189.47" y2="645.9" stroke="#000" stroke-width="3.3"/>
<line x1="225.58" y1="639.8" x2="225.58" y2="645.9" stroke="#000" stroke-width="3.3"/>
<line x1="267.26" y1="639.8" x2="267.26" y2="645.9" stroke="#000" stroke-width="3.3"/>
<line x1="376.89" y1="639.8" x2="376.89" y2="645.9" stroke="#000" stroke-width="3.3"/>
<line x1="454.68" y1="639.8" x2="454.68" y2="645.9" stroke="#000" stroke-width="3.3"/>
<line x1="780.22" y1="639.8" x2="780.22" y2="645.9" stroke="#000" stroke-width="3.3"/>
<line x1="812.07" y1="639.8" x2="812.07" y2="645.9" stroke="#000" stroke-width="3.3"/>
<line x1="848.18" y1="639.8" x2="848.18" y2="645.9" stroke="#000" stroke-width="3.3"/>
<line x1="889.86" y1="639.8" x2="889.86" y2="645.9" stroke="#000" stroke-width="3.3"/>
<line x1="100.65" y1="582.35" x2="112.85" y2="582.35" stroke="#000" stroke-width="3.3"/>
<line x1="1020.3" y1="582.35" x2="1008.1" y2="582.35" stroke="#000" stroke-width="3.3"/>
<line x1="100.65" y1="535.86" x2="106.75" y2="535.86" stroke="#000" stroke-width="3.3"/>
<line x1="1020.3" y1="535.86" x2="1014.2" y2="535.86" stroke="#000" stroke-width="3.3"/>
<line x1="100.65" y1="489.37" x2="112.85" y2="489.37" stroke="#000" stroke-width="3.3"/>
<line x1="1020.3" y1="489.37" x2="1008.1" y2="489.37" stroke="#000" stroke-width="3.3"/>
<line x1="100.65" y1="442.88" x2="106.75" y2="442.88" stroke="#000" stroke-width="3.3"/>
<line x1="1020.3" y1="442.88" x2="1014.2" y2="442.88" stroke="#000" stroke-width="3.3"/>
<line x1="100.65" y1="396.39" x2="112.85" y2="396.39" stroke="#000" stroke-width="3.3"/>
<line x1="1020.3" y1="396.39" x2="1008.1" y2="396.39" stroke="#000" stroke-width="3.3"/>
<line x1="100.65" y1="349.9" x2="106.75" y2="349.9" stroke="#000" stroke-width="3.3"/>
<line x1="1020.3" y1="349.9" x2="1014.2" y2="349.9" stroke="#000" stroke-width="3.3"/>
<line x1="100.65" y1="303.41" x2="112.85" y2="303.41" stroke="#000" stroke-width="3.3"/>
<line x1="1020.3" y1="303.41" x2="1008.1" y2="303.41" stroke="#000" stroke-width="3.3"/>
<line x1="100.65" y1="256.92" x2="106.75" y2="256.92" stroke="#000" stroke-width="3.3"/>
<line x1="1020.3" y1="256.92" x2="1014.2" y2="256.92" stroke="#000" stroke-width="3.3"/>
<line x1="100.65" y1="210.43" x2="112.85" y2="210.43" stroke="#000" stroke-width="3.3"/>
<line x1="1020.3" y1="210.43" x2="1008.1" y2="210.43" stroke="#000" stroke-width="3.3"/>
<line x1="100.65" y1="163.94" x2="106.75" y2="163.94" stroke="#000" stroke-width="3.3"/>
<line x1="1020.3" y1="163.94" x2="1014.2" y2="163.94" stroke="#000" stroke-width="3.3"/>
<line x1="100.65" y1="117.45" x2="112.85" y2="117.45" stroke="#000" stroke-width="3.3"/>
<line x1="1020.3" y1="117.45" x2="1008.1" y2="117.45" stroke="#000" stroke-width="3.3"/>
<line x1="100.65" y1="911.69" x2="106.75" y2="911.69" stroke="#000" stroke-width="3.3"/>
<line x1="1020.3" y1="911.69" x2="1014.2" y2="911.69" stroke="#000" stroke-width="3.3"/>
<line x1="100.65" y1="866.37" x2="112.85" y2="866.37" stroke="#000" stroke-width="3.3"/>
<line x1="1020.3" y1="866.37" x2="1008.1" y2="866.37" stroke="#000" stroke-width="3.3"/>
<line x1="100.65" y1="821.06" x2="106.75" y2="821.06" stroke="#000" stroke-width="3.3"/>
<line x1="1020.3" y1="821.06" x2="1014.2" y2="821.06" stroke="#000" stroke-width="3.3"/>
<line x1="100.65" y1="775.74" x2="112.85" y2="775.74" stroke="#000" stroke-width="3.3"/>
<line x1="1020.3" y1="775.74" x2="1008.1" y2="775.74" stroke="#000" stroke-width="3.3"/>
<line x1="100.65" y1="730.43" x2="106.75" y2="730.43" stroke="#000" stroke-width="3.3"/>
<line x1="1020.3" y1="730.43" x2="1014.2" y2="730.43" stroke="#000" stroke-width="3.3"/>
<line x1="100.65" y1="685.11" x2="112.85" y2="685.11" stroke="#000" stroke-width="3.3"/>
<line x1="1020.3" y1="685.11" x2="1008.1" y2="685.11" stroke="#000" stroke-width="3.3"/>
<rect x="100.65" y="89.1" width="919.65" height="540.1" fill="none" stroke="#000" stroke-width="3.3"/>
<rect x="100.65" y="639.8" width="919.65" height="317.2" fill="none" stroke="#000" stroke-width="3.3"/>
<text transform="translate(560.48,23) scale(1,1.03)" text-anchor="middle" font-size="27.75">Profile length measured in correlation lengths L/T</text>
<text transform="translate(560.48,1045) scale(1,1.03)" text-anchor="middle">Ratio α = T/L</text>
<text transform="translate(129.14,70) scale(1,1.04)" text-anchor="middle">100</text>
<text transform="translate(316.56,70) scale(1,1.04)" text-anchor="middle">50</text>
<text transform="translate(564.31,70) scale(1,1.04)" text-anchor="middle">20</text>
<text transform="translate(751.73,70) scale(1,1.04)" text-anchor="middle">10</text>
<text transform="translate(939.15,70) scale(1,1.04)" text-anchor="middle">5</text>
<text transform="translate(129.14,999) scale(1,1.04)" text-anchor="middle">0.01</text>
<text transform="translate(316.56,999) scale(1,1.04)" text-anchor="middle">0.02</text>
<text transform="translate(564.31,999) scale(1,1.04)" text-anchor="middle">0.05</text>
<text transform="translate(751.73,999) scale(1,1.04)" text-anchor="middle">0.1</text>
<text transform="translate(939.15,999) scale(1,1.04)" text-anchor="middle">0.2</text>
<text transform="translate(1003.3,148) scale(1,1.025)" text-anchor="end" font-weight="bold">Gaussian ACF</text>
<line x1="1068.79" y1="89.1" x2="1068.79" y2="629.2" stroke="#e0e0e0" stroke-width="1.65"/>
<line x1="1068.79" y1="639.8" x2="1068.79" y2="957" stroke="#e0e0e0" stroke-width="1.65"/>
<line x1="1256.21" y1="89.1" x2="1256.21" y2="629.2" stroke="#e0e0e0" stroke-width="1.65"/>
<line x1="1256.21" y1="639.8" x2="1256.21" y2="957" stroke="#e0e0e0" stroke-width="1.65"/>
<line x1="1503.96" y1="89.1" x2="1503.96" y2="629.2" stroke="#e0e0e0" stroke-width="1.65"/>
<line x1="1503.96" y1="639.8" x2="1503.96" y2="957" stroke="#e0e0e0" stroke-width="1.65"/>
<line x1="1691.38" y1="89.1" x2="1691.38" y2="629.2" stroke="#e0e0e0" stroke-width="1.65"/>
<line x1="1691.38" y1="639.8" x2="1691.38" y2="957" stroke="#e0e0e0" stroke-width="1.65"/>
<line x1="1878.8" y1="89.1" x2="1878.8" y2="629.2" stroke="#e0e0e0" stroke-width="1.65"/>
<line x1="1878.8" y1="639.8" x2="1878.8" y2="957" stroke="#e0e0e0" stroke-width="1.65"/>
<line x1="1040.3" y1="582.35" x2="1959.95" y2="582.35" stroke="#e0e0e0" stroke-width="1.65"/>
<line x1="1040.3" y1="535.86" x2="1959.95" y2="535.86" stroke="#e0e0e0" stroke-width="1.65"/>
<line x1="1040.3" y1="489.37" x2="1959.95" y2="489.37" stroke="#e0e0e0" stroke-width="1.65"/>
<line x1="1040.3" y1="442.88" x2="1959.95" y2="442.88" stroke="#e0e0e0" stroke-width="1.65"/>
<line x1="1040.3" y1="396.39" x2="1959.95" y2="396.39" stroke="#e0e0e0" stroke-width="1.65"/>
<line x1="1040.3" y1="349.9" x2="1959.95" y2="349.9" stroke="#e0e0e0" stroke-width="1.65"/>
<line x1="1040.3" y1="303.41" x2="1959.95" y2="303.41" stroke="#e0e0e0" stroke-width="1.65"/>
<line x1="1040.3" y1="256.92" x2="1959.95" y2="256.92" stroke="#e0e0e0" stroke-width="1.65"/>
<line x1="1040.3" y1="210.43" x2="1959.95" y2="210.43" stroke="#e0e0e0" stroke-width="1.65"/>
<line x1="1040.3" y1="163.94" x2="1959.95" y2="163.94" stroke="#e0e0e0" stroke-width="1.65"/>
<line x1="1040.3" y1="117.45" x2="1959.95" y2="117.45" stroke="#e0e0e0" stroke-width="1.65"/>
<line x1="1040.3" y1="911.69" x2="1959.95" y2="911.69" stroke="#e0e0e0" stroke-width="1.65"/>
<line x1="1040.3" y1="866.37" x2="1959.95" y2="866.37" stroke="#e0e0e0" stroke-width="1.65"/>
<line x1="1040.3" y1="821.06" x2="1959.95" y2="821.06" stroke="#e0e0e0" stroke-width="1.65"/>
<line x1="1040.3" y1="775.74" x2="1959.95" y2="775.74" stroke="#e0e0e0" stroke-width="1.65"/>
<line x1="1040.3" y1="730.43" x2="1959.95" y2="730.43" stroke="#e0e0e0" stroke-width="1.65"/>
<line x1="1040.3" y1="685.11" x2="1959.95" y2="685.11" stroke="#e0e0e0" stroke-width="1.65"/>
<polyline points="1065.69,117.45 1069.68,117.45 1073.67,117.45 1077.66,117.45 1081.65,117.45 1085.64,117.45 1089.63,117.45 1093.62,117.45 1097.61,117.45 1101.60,117.45 1105.59,117.45 1109.58,117.45 1113.57,117.45 1117.56,117.45 1121.55,117.45 1125.54,117.45 1129.53,117.45 1133.52,117.45 1137.51,117.45 1141.50,117.45 1145.49,117.45 1149.48,117.45 1153.47,117.45 1157.46,117.45 1161.45,117.45 1165.44,117.45 1169.43,117.45 1173.42,117.45 1177.41,117.45 1181.40,117.45 1185.39,117.45 1189.38,117.45 1193.37,117.45 1197.36,117.45 1201.35,117.45 1205.35,117.45 1209.34,117.45 1213.33,117.45 1217.32,117.45 1221.31,117.45 1225.30,117.45 1229.29,117.45 1233.28,117.45 1237.27,117.45 1241.26,117.45 1245.25,117.45 1249.24,117.45 1253.23,117.45 1257.22,117.45 1261.21,117.45 1265.20,117.45 1269.19,117.45 1273.18,117.45 1277.17,117.45 1281.16,117.45 1285.15,117.45 1289.14,117.45 1293.13,117.45 1297.12,117.45 1301.11,117.45 1305.10,117.45 1309.09,117.45 1313.08,117.45 1317.07,117.45 1321.06,117.45 1325.05,117.45 1329.04,117.45 1333.03,117.45 1337.02,117.45 1341.01,117.45 1345.00,117.45 1348.99,117.45 1352.98,117.45 1356.97,117.45 1360.96,117.45 1364.95,117.45 1368.94,117.45 1372.93,117.45 1376.92,117.45 1380.91,117.45 1384.90,117.45 1388.89,117.45 1392.88,117.45 1396.87,117.45 1400.86,117.45 1404.85,117.45 1408.84,117.45 1412.84,117.45 1416.83,117.45 1420.82,117.45 1424.81,117.45 1428.80,117.45 1432.79,117.45 1436.78,117.45 1440.77,117.45 1444.76,117.45 1448.75,117.45 1452.74,117.45 1456.73,117.45 1460.72,117.45 1464.71,117.45 1468.70,117.45 1472.69,117.45 1476.68,117.45 1480.67,117.45 1484.66,117.45 1488.65,117.45 1492.64,117.45 1496.63,117.45 1500.62,117.45 1504.61,117.45 1508.60,117.45 1512.59,117.45 1516.58,117.45 1520.57,117.45 1524.56,117.45 1528.55,117.45 1532.54,117.45 1536.53,117.45 1540.52,117.45 1544.51,117.45 1548.50,117.45 1552.49,117.45 1556.48,117.45 1560.47,117.45 1564.46,117.45 1568.45,117.45 1572.44,117.45 1576.43,117.45 1580.42,117.45 1584.41,117.45 1588.40,117.45 1592.39,117.45 1596.38,117.45 1600.37,117.45 1604.36,117.45 1608.35,117.45 1612.34,117.45 1616.33,117.45 1620.33,117.45 1624.32,117.45 1628.31,117.45 1632.30,117.45 1636.29,117.45 1640.28,117.45 1644.27,117.45 1648.26,117.45 1652.25,117.45 1656.24,117.45 1660.23,117.45 1664.22,117.45 1668.21,117.45 1672.20,117.45 1676.19,117.45 1680.18,117.45 1684.17,117.45 1688.16,117.45 1692.15,117.45 1696.14,117.45 1700.13,117.45 1704.12,117.45 1708.11,117.45 1712.10,117.45 1716.09,117.45 1720.08,117.45 1724.07,117.45 1728.06,117.45 1732.05,117.45 1736.04,117.45 1740.03,117.45 1744.02,117.45 1748.01,117.45 1752.00,117.45 1755.99,117.45 1759.98,117.45 1763.97,117.45 1767.96,117.45 1771.95,117.45 1775.94,117.45 1779.93,117.45 1783.92,117.45 1787.91,117.45 1791.90,117.45 1795.89,117.45 1799.88,117.45 1803.87,117.45 1807.86,117.45 1811.85,117.45 1815.84,117.45 1819.83,117.45 1823.82,117.45 1827.82,117.45 1831.81,117.45 1835.80,117.45 1839.79,117.45 1843.78,117.45 1847.77,117.45 1851.76,117.45 1855.75,117.45 1859.74,117.45 1863.73,117.45 1867.72,117.45 1871.71,117.45 1875.70,117.45 1879.69,117.45 1883.68,117.45 1887.67,117.45 1891.66,117.45 1895.65,117.45 1899.64,117.45 1903.63,117.45 1907.62,117.45 1911.61,117.45 1915.60,117.45 1919.59,117.45 1923.58,117.45 1927.57,117.45 1931.56,117.45 1935.55,117.45 1939.54,117.45" fill="none" stroke="#919191" stroke-width="3.3" stroke-linejoin="round" clip-path="url(#ct1)"/>
<polyline points="1065.69,118.02 1069.68,118.04 1073.67,118.06 1077.66,118.07 1081.65,118.09 1085.64,118.11 1089.63,118.13 1093.62,118.15 1097.61,118.17 1101.60,118.19 1105.59,118.21 1109.58,118.24 1113.57,118.26 1117.56,118.28 1121.55,118.31 1125.54,118.33 1129.53,118.36 1133.52,118.39 1137.51,118.41 1141.50,118.44 1145.49,118.47 1149.48,118.50 1153.47,118.53 1157.46,118.56 1161.45,118.60 1165.44,118.63 1169.43,118.67 1173.42,118.70 1177.41,119.64 1181.40,119.68 1185.39,119.72 1189.38,119.76 1193.37,119.80 1197.36,119.84 1201.35,119.88 1205.35,119.93 1209.34,119.97 1213.33,120.02 1217.32,120.07 1221.31,120.12 1225.30,120.17 1229.29,120.23 1233.28,120.28 1237.27,120.34 1241.26,120.39 1245.25,120.45 1249.24,120.52 1253.23,120.58 1257.22,120.64 1261.21,119.94 1265.20,119.88 1269.19,119.53 1273.18,119.52 1277.17,119.85 1281.16,120.18 1285.15,120.25 1289.14,120.34 1293.13,120.42 1297.12,120.51 1301.11,120.59 1305.10,120.69 1309.09,120.78 1313.08,120.88 1317.07,120.98 1321.06,121.08 1325.05,121.18 1329.04,121.29 1333.03,121.40 1337.02,121.52 1341.01,121.63 1345.00,121.75 1348.99,121.88 1352.98,122.01 1356.97,122.14 1360.96,122.27 1364.95,122.41 1368.94,122.55 1372.93,122.70 1376.92,122.85 1380.91,123.01 1384.90,123.16 1388.89,123.33 1392.88,123.50 1396.87,123.67 1400.86,123.85 1404.85,124.03 1408.84,124.22 1412.84,124.41 1416.83,124.61 1420.82,124.81 1424.81,125.02 1428.80,125.24 1432.79,125.46 1436.78,125.69 1440.77,125.92 1444.76,126.16 1448.75,126.41 1452.74,126.66 1456.73,126.92 1460.72,127.19 1464.71,127.46 1468.70,127.75 1472.69,128.04 1476.68,128.33 1480.67,128.64 1484.66,128.95 1488.65,129.28 1492.64,129.61 1496.63,129.95 1500.62,130.30 1504.61,130.66 1508.60,131.03 1512.59,131.40 1516.58,131.79 1520.57,132.19 1524.56,132.60 1528.55,133.02 1532.54,133.45 1536.53,133.89 1540.52,134.35 1544.51,134.81 1548.50,135.29 1552.49,135.78 1556.48,136.29 1560.47,136.80 1564.46,137.33 1568.45,137.88 1572.44,138.44 1576.43,139.01 1580.42,139.60 1584.41,140.20 1588.40,140.81 1592.39,141.45 1596.38,142.10 1600.37,142.76 1604.36,143.44 1608.35,144.14 1612.34,144.85 1616.33,145.58 1620.33,146.34 1624.32,147.11 1628.31,147.89 1632.30,148.70 1636.29,149.53 1640.28,150.38 1644.27,151.24 1648.26,152.13 1652.25,153.04 1656.24,153.97 1660.23,154.93 1664.22,155.90 1668.21,156.90 1672.20,157.93 1676.19,158.97 1680.18,160.04 1684.17,161.14 1688.16,162.26 1692.15,163.41 1696.14,164.58 1700.13,165.78 1704.12,167.01 1708.11,168.26 1712.10,169.54 1716.09,170.85 1720.08,172.19 1724.07,173.56 1728.06,174.95 1732.05,176.38 1736.04,177.84 1740.03,179.33 1744.02,180.85 1748.01,182.40 1752.00,183.98 1755.99,185.60 1759.98,187.25 1763.97,188.93 1767.96,190.65 1771.95,192.40 1775.94,194.19 1779.93,196.01 1783.92,197.86 1787.91,199.75 1791.90,201.68 1795.89,203.65 1799.88,205.65 1803.87,207.68 1807.86,209.76 1811.85,211.87 1815.84,214.02 1819.83,216.21 1823.82,218.44 1827.82,220.70 1831.81,223.00 1835.80,225.34 1839.79,227.73 1843.78,230.15 1847.77,232.60 1851.76,235.10 1855.75,237.64 1859.74,240.22 1863.73,242.83 1867.72,245.49 1871.71,248.19 1875.70,250.92 1879.69,253.70 1883.68,256.51 1887.67,259.37 1891.66,262.26 1895.65,265.19 1899.64,268.16 1903.63,271.17 1907.62,274.22 1911.61,277.31 1915.60,280.43 1919.59,283.60 1923.58,286.79 1927.57,290.03 1931.56,293.30 1935.55,296.61 1939.54,299.96" fill="none" stroke="#0000e0" stroke-width="3.3" stroke-linejoin="round" clip-path="url(#ct1)"/>
<polyline points="1065.69,119.13 1069.68,119.18 1073.67,119.23 1077.66,119.29 1081.65,119.34 1085.64,119.40 1089.63,119.45 1093.62,119.51 1097.61,119.57 1101.60,119.63 1105.59,119.70 1109.58,119.76 1113.57,119.83 1117.56,119.90 1121.55,119.97 1125.54,120.05 1129.53,120.12 1133.52,120.20 1137.51,120.28 1141.50,120.36 1145.49,120.45 1149.48,120.53 1153.47,120.62 1157.46,120.71 1161.45,120.81 1165.44,120.91 1169.43,121.01 1173.42,121.11 1177.41,122.12 1181.40,122.23 1185.39,122.34 1189.38,122.45 1193.37,122.57 1197.36,122.69 1201.35,122.82 1205.35,122.95 1209.34,123.08 1213.33,123.22 1217.32,123.36 1221.31,123.50 1225.30,123.65 1229.29,123.80 1233.28,123.96 1237.27,124.12 1241.26,124.28 1245.25,124.45 1249.24,124.63 1253.23,124.81 1257.22,124.99 1261.21,124.42 1265.20,124.48 1269.19,124.26 1273.18,124.39 1277.17,124.85 1281.16,125.32 1285.15,125.54 1289.14,125.77 1293.13,126.01 1297.12,126.25 1301.11,126.50 1305.10,126.76 1309.09,127.02 1313.08,127.29 1317.07,127.57 1321.06,127.85 1325.05,128.15 1329.04,128.45 1333.03,128.76 1337.02,129.08 1341.01,129.40 1345.00,129.74 1348.99,130.08 1352.98,130.44 1356.97,130.80 1360.96,131.17 1364.95,131.56 1368.94,131.95 1372.93,132.36 1376.92,132.77 1380.91,133.20 1384.90,133.63 1388.89,134.08 1392.88,134.54 1396.87,135.02 1400.86,135.50 1404.85,136.00 1408.84,136.51 1412.84,137.03 1416.83,137.57 1420.82,138.12 1424.81,138.69 1428.80,139.27 1432.79,139.87 1436.78,140.48 1440.77,141.11 1444.76,141.75 1448.75,142.41 1452.74,143.09 1456.73,143.78 1460.72,144.49 1464.71,145.22 1468.70,145.97 1472.69,146.73 1476.68,147.52 1480.67,148.32 1484.66,149.15 1488.65,149.99 1492.64,150.86 1496.63,151.75 1500.62,152.66 1504.61,153.59 1508.60,154.54 1512.59,155.52 1516.58,156.52 1520.57,157.54 1524.56,158.59 1528.55,159.67 1532.54,160.77 1536.53,161.89 1540.52,163.05 1544.51,164.23 1548.50,165.43 1552.49,166.67 1556.48,167.93 1560.47,169.22 1564.46,170.54 1568.45,171.89 1572.44,173.28 1576.43,174.69 1580.42,176.13 1584.41,177.61 1588.40,179.12 1592.39,180.66 1596.38,182.24 1600.37,183.84 1604.36,185.48 1608.35,187.16 1612.34,188.87 1616.33,190.61 1620.33,192.40 1624.32,194.22 1628.31,196.07 1632.30,197.97 1636.29,199.90 1640.28,201.87 1644.27,203.88 1648.26,205.93 1652.25,208.02 1656.24,210.15 1660.23,212.33 1664.22,214.54 1668.21,216.79 1672.20,219.09 1676.19,221.43 1680.18,223.81 1684.17,226.24 1688.16,228.70 1692.15,231.21 1696.14,233.77 1700.13,236.37 1704.12,239.01 1708.11,241.70 1712.10,244.44 1716.09,247.22 1720.08,250.04 1724.07,252.91 1728.06,255.82 1732.05,258.78 1736.04,261.79 1740.03,264.84 1744.02,267.93 1748.01,271.08 1752.00,274.26 1755.99,277.49 1759.98,280.77 1763.97,284.10 1767.96,287.46 1771.95,290.87 1775.94,294.33 1779.93,297.83 1783.92,301.38 1787.91,304.96 1791.90,308.60 1795.89,312.27 1799.88,315.99 1803.87,319.75 1807.86,323.55 1811.85,327.39 1815.84,331.27 1819.83,335.19 1823.82,339.15 1827.82,343.16 1831.81,347.19 1835.80,351.27 1839.79,355.38 1843.78,359.53 1847.77,363.71 1851.76,367.92 1855.75,372.17 1859.74,376.46 1863.73,380.77 1867.72,385.11 1871.71,389.49 1875.70,393.89 1879.69,398.32 1883.68,402.78 1887.67,407.27 1891.66,411.77 1895.65,416.30 1899.64,420.86 1903.63,425.44 1907.62,430.03 1911.61,434.65 1915.60,439.28 1919.59,443.94 1923.58,448.60 1927.57,453.28 1931.56,457.98 1935.55,462.69 1939.54,467.41" fill="none" stroke="#00a1c1" stroke-width="3.3" stroke-linejoin="round" clip-path="url(#ct1)"/>
<polyline points="1065.69,120.76 1069.68,120.86 1073.67,120.96 1077.66,121.06 1081.65,121.16 1085.64,121.27 1089.63,121.38 1093.62,121.50 1097.61,121.61 1101.60,121.73 1105.59,121.86 1109.58,121.99 1113.57,122.12 1117.56,122.25 1121.55,122.39 1125.54,122.53 1129.53,122.68 1133.52,122.83 1137.51,122.98 1141.50,123.14 1145.49,123.30 1149.48,123.47 1153.47,123.64 1157.46,123.82 1161.45,124.00 1165.44,124.19 1169.43,124.38 1173.42,124.58 1177.41,125.69 1181.40,125.90 1185.39,126.11 1189.38,126.33 1193.37,126.56 1197.36,126.79 1201.35,127.03 1205.35,127.28 1209.34,127.53 1213.33,127.79 1217.32,128.06 1221.31,128.33 1225.30,128.62 1229.29,128.91 1233.28,129.20 1237.27,129.51 1241.26,129.82 1245.25,130.15 1249.24,130.48 1253.23,130.82 1257.22,131.17 1261.21,130.76 1265.20,131.00 1269.19,130.95 1273.18,131.27 1277.17,131.92 1281.16,132.58 1285.15,133.00 1289.14,133.43 1293.13,133.87 1297.12,134.33 1301.11,134.79 1305.10,135.27 1309.09,135.77 1313.08,136.27 1317.07,136.79 1321.06,137.32 1325.05,137.87 1329.04,138.43 1333.03,139.00 1337.02,139.59 1341.01,140.20 1345.00,140.82 1348.99,141.46 1352.98,142.11 1356.97,142.78 1360.96,143.46 1364.95,144.17 1368.94,144.89 1372.93,145.63 1376.92,146.39 1380.91,147.17 1384.90,147.96 1388.89,148.78 1392.88,149.62 1396.87,150.48 1400.86,151.36 1404.85,152.26 1408.84,153.18 1412.84,154.13 1416.83,155.09 1420.82,156.09 1424.81,157.10 1428.80,158.14 1432.79,159.21 1436.78,160.30 1440.77,161.42 1444.76,162.56 1448.75,163.73 1452.74,164.93 1456.73,166.15 1460.72,167.41 1464.71,168.69 1468.70,170.00 1472.69,171.34 1476.68,172.72 1480.67,174.12 1484.66,175.56 1488.65,177.02 1492.64,178.52 1496.63,180.06 1500.62,181.63 1504.61,183.23 1508.60,184.86 1512.59,186.54 1516.58,188.24 1520.57,189.99 1524.56,191.77 1528.55,193.59 1532.54,195.44 1536.53,197.34 1540.52,199.27 1544.51,201.25 1548.50,203.26 1552.49,205.31 1556.48,207.41 1560.47,209.54 1564.46,211.72 1568.45,213.94 1572.44,216.21 1576.43,218.51 1580.42,220.86 1584.41,223.26 1588.40,225.70 1592.39,228.18 1596.38,230.71 1600.37,233.27 1604.36,235.89 1608.35,238.54 1612.34,241.25 1616.33,244.00 1620.33,246.79 1624.32,249.64 1628.31,252.52 1632.30,255.46 1636.29,258.45 1640.28,261.48 1644.27,264.55 1648.26,267.68 1652.25,270.85 1656.24,274.08 1660.23,277.34 1664.22,280.66 1668.21,284.02 1672.20,287.43 1676.19,290.89 1680.18,294.39 1684.17,297.94 1688.16,301.54 1692.15,305.18 1696.14,308.87 1700.13,312.60 1704.12,316.38 1708.11,320.20 1712.10,324.07 1716.09,327.98 1720.08,331.94 1724.07,335.93 1728.06,339.97 1732.05,344.05 1736.04,348.17 1740.03,352.33 1744.02,356.54 1748.01,360.78 1752.00,365.05 1755.99,369.37 1759.98,373.72 1763.97,378.11 1767.96,382.53 1771.95,386.98 1775.94,391.47 1779.93,395.99 1783.92,400.53 1787.91,405.11 1791.90,409.72 1795.89,414.36 1799.88,419.02 1803.87,423.70 1807.86,428.42 1811.85,433.15 1815.84,437.90 1819.83,442.68 1823.82,447.48 1827.82,452.29 1831.81,457.12 1835.80,461.96 1839.79,466.83 1843.78,471.70 1847.77,476.58 1851.76,481.48 1855.75,486.39 1859.74,491.30 1863.73,496.22 1867.72,501.14 1871.71,506.08 1875.70,511.01 1879.69,515.94 1883.68,520.87 1887.67,525.81 1891.66,530.74 1895.65,535.66 1899.64,540.59 1903.63,545.51 1907.62,550.41 1911.61,555.31 1915.60,560.20 1919.59,565.09 1923.58,569.95 1927.57,574.81 1931.56,579.64 1935.55,584.47 1939.54,589.28" fill="none" stroke="#00c100" stroke-width="3.3" stroke-linejoin="round" clip-path="url(#ct1)"/>
<polyline points="1065.69,122.87 1069.68,123.03 1073.67,123.19 1077.66,123.36 1081.65,123.53 1085.64,123.70 1089.63,123.88 1093.62,124.07 1097.61,124.26 1101.60,124.45 1105.59,124.65 1109.58,124.85 1113.57,125.07 1117.56,125.28 1121.55,125.51 1125.54,125.74 1129.53,125.97 1133.52,126.21 1137.51,126.46 1141.50,126.72 1145.49,126.98 1149.48,127.25 1153.47,127.53 1157.46,127.81 1161.45,128.10 1165.44,128.40 1169.43,128.71 1173.42,129.03 1177.41,130.26 1181.40,130.59 1185.39,130.93 1189.38,131.29 1193.37,131.65 1197.36,132.02 1201.35,132.40 1205.35,132.80 1209.34,133.20 1213.33,133.61 1217.32,134.04 1221.31,134.47 1225.30,134.92 1229.29,135.38 1233.28,135.85 1237.27,136.34 1241.26,136.83 1245.25,137.34 1249.24,137.87 1253.23,138.40 1257.22,138.95 1261.21,138.75 1265.20,139.20 1269.19,139.37 1273.18,139.90 1277.17,140.78 1281.16,141.67 1285.15,142.33 1289.14,143.01 1293.13,143.70 1297.12,144.41 1301.11,145.14 1305.10,145.88 1309.09,146.65 1313.08,147.43 1317.07,148.24 1321.06,149.06 1325.05,149.91 1329.04,150.77 1333.03,151.66 1337.02,152.57 1341.01,153.50 1345.00,154.45 1348.99,155.43 1352.98,156.43 1356.97,157.46 1360.96,158.51 1364.95,159.58 1368.94,160.68 1372.93,161.81 1376.92,162.96 1380.91,164.14 1384.90,165.35 1388.89,166.59 1392.88,167.85 1396.87,169.14 1400.86,170.47 1404.85,171.82 1408.84,173.21 1412.84,174.62 1416.83,176.07 1420.82,177.55 1424.81,179.07 1428.80,180.61 1432.79,182.20 1436.78,183.81 1440.77,185.46 1444.76,187.15 1448.75,188.87 1452.74,190.63 1456.73,192.43 1460.72,194.26 1464.71,196.14 1468.70,198.05 1472.69,200.00 1476.68,201.99 1480.67,204.02 1484.66,206.10 1488.65,208.21 1492.64,210.37 1496.63,212.56 1500.62,214.81 1504.61,217.09 1508.60,219.42 1512.59,221.79 1516.58,224.21 1520.57,226.67 1524.56,229.17 1528.55,231.73 1532.54,234.33 1536.53,236.97 1540.52,239.66 1544.51,242.40 1548.50,245.19 1552.49,248.02 1556.48,250.90 1560.47,253.83 1564.46,256.81 1568.45,259.84 1572.44,262.91 1576.43,266.03 1580.42,269.20 1584.41,272.43 1588.40,275.70 1592.39,279.02 1596.38,282.38 1600.37,285.78 1604.36,289.24 1608.35,292.74 1612.34,296.28 1616.33,299.88 1620.33,303.52 1624.32,307.21 1628.31,310.95 1632.30,314.73 1636.29,318.56 1640.28,322.43 1644.27,326.35 1648.26,330.32 1652.25,334.33 1656.24,338.38 1660.23,342.47 1664.22,346.61 1668.21,350.79 1672.20,355.01 1676.19,359.27 1680.18,363.57 1684.17,367.91 1688.16,372.29 1692.15,376.70 1696.14,381.16 1700.13,385.64 1704.12,390.16 1708.11,394.72 1712.10,399.30 1716.09,403.92 1720.08,408.57 1724.07,413.25 1728.06,417.95 1732.05,422.69 1736.04,427.45 1740.03,432.23 1744.02,437.04 1748.01,441.87 1752.00,446.72 1755.99,451.59 1759.98,456.48 1763.97,461.39 1767.96,466.31 1771.95,471.24 1775.94,476.19 1779.93,481.16 1783.92,486.13 1787.91,491.11 1791.90,496.11 1795.89,501.10 1799.88,506.11 1803.87,511.11 1807.86,516.13 1811.85,521.14 1815.84,526.15 1819.83,531.16 1823.82,536.17 1827.82,541.18 1831.81,546.17 1835.80,551.17 1839.79,556.16 1843.78,561.13 1847.77,566.10 1851.76,571.06 1855.75,576.00 1859.74,580.93 1863.73,585.85 1867.72,590.75 1871.71,595.63 1875.70,600.50 1879.69,605.34 1883.68,610.16 1887.67,614.97 1891.66,619.75 1895.65,624.51 1899.64,629.24 1903.63,633.95 1907.62,638.63 1911.61,643.28 1915.60,647.91 1919.59,652.51 1923.58,657.08 1927.57,661.61 1931.56,666.12 1935.55,670.60 1939.54,675.04" fill="none" stroke="#c1b500" stroke-width="3.3" stroke-linejoin="round" clip-path="url(#ct1)"/>
<polyline points="1065.69,125.44 1069.68,125.67 1073.67,125.91 1077.66,126.15 1081.65,126.39 1085.64,126.65 1089.63,126.91 1093.62,127.18 1097.61,127.46 1101.60,127.74 1105.59,128.03 1109.58,128.33 1113.57,128.64 1117.56,128.95 1121.55,129.27 1125.54,129.61 1129.53,129.95 1133.52,130.30 1137.51,130.66 1141.50,131.03 1145.49,131.41 1149.48,131.80 1153.47,132.20 1157.46,132.61 1161.45,133.03 1165.44,133.46 1169.43,133.91 1173.42,134.36 1177.41,135.73 1181.40,136.21 1185.39,136.71 1189.38,137.21 1193.37,137.73 1197.36,138.27 1201.35,138.81 1205.35,139.38 1209.34,139.95 1213.33,140.54 1217.32,141.15 1221.31,141.77 1225.30,142.41 1229.29,143.06 1233.28,143.74 1237.27,144.42 1241.26,145.13 1245.25,145.85 1249.24,146.60 1253.23,147.36 1257.22,148.14 1261.21,148.17 1265.20,148.86 1269.19,149.27 1273.18,150.06 1277.17,151.19 1281.16,152.34 1285.15,153.27 1289.14,154.22 1293.13,155.19 1297.12,156.18 1301.11,157.20 1305.10,158.25 1309.09,159.31 1313.08,160.41 1317.07,161.53 1321.06,162.68 1325.05,163.85 1329.04,165.05 1333.03,166.28 1337.02,167.54 1341.01,168.83 1345.00,170.14 1348.99,171.49 1352.98,172.87 1356.97,174.28 1360.96,175.72 1364.95,177.19 1368.94,178.70 1372.93,180.24 1376.92,181.81 1380.91,183.42 1384.90,185.07 1388.89,186.75 1392.88,188.46 1396.87,190.21 1400.86,192.00 1404.85,193.83 1408.84,195.69 1412.84,197.60 1416.83,199.54 1420.82,201.53 1424.81,203.55 1428.80,205.61 1432.79,207.72 1436.78,209.87 1440.77,212.06 1444.76,214.29 1448.75,216.57 1452.74,218.89 1456.73,221.25 1460.72,223.66 1464.71,226.12 1468.70,228.62 1472.69,231.16 1476.68,233.75 1480.67,236.39 1484.66,239.08 1488.65,241.81 1492.64,244.59 1496.63,247.42 1500.62,250.29 1504.61,253.21 1508.60,256.19 1512.59,259.21 1516.58,262.28 1520.57,265.39 1524.56,268.56 1528.55,271.78 1532.54,275.04 1536.53,278.36 1540.52,281.72 1544.51,285.14 1548.50,288.60 1552.49,292.11 1556.48,295.67 1560.47,299.28 1564.46,302.93 1568.45,306.63 1572.44,310.39 1576.43,314.19 1580.42,318.04 1584.41,321.93 1588.40,325.88 1592.39,329.86 1596.38,333.89 1600.37,337.95 1604.36,342.06 1608.35,346.21 1612.34,350.40 1616.33,354.64 1620.33,358.91 1624.32,363.23 1628.31,367.58 1632.30,371.98 1636.29,376.41 1640.28,380.89 1644.27,385.39 1648.26,389.93 1652.25,394.51 1656.24,399.12 1660.23,403.76 1664.22,408.44 1668.21,413.14 1672.20,417.87 1676.19,422.63 1680.18,427.42 1684.17,432.23 1688.16,437.07 1692.15,441.93 1696.14,446.81 1700.13,451.72 1704.12,456.64 1708.11,461.58 1712.10,466.54 1716.09,471.52 1720.08,476.50 1724.07,481.50 1728.06,486.51 1732.05,491.54 1736.04,496.57 1740.03,501.61 1744.02,506.65 1748.01,511.70 1752.00,516.76 1755.99,521.81 1759.98,526.87 1763.97,531.93 1767.96,536.98 1771.95,542.03 1775.94,547.08 1779.93,552.12 1783.92,557.15 1787.91,562.17 1791.90,567.19 1795.89,572.20 1799.88,577.19 1803.87,582.17 1807.86,587.14 1811.85,592.09 1815.84,597.02 1819.83,601.93 1823.82,606.83 1827.82,611.71 1831.81,616.56 1835.80,621.39 1839.79,626.20 1843.78,630.99 1847.77,635.75 1851.76,640.48 1855.75,645.19 1859.74,649.87 1863.73,654.52 1867.72,659.14 1871.71,663.74 1875.70,668.30 1879.69,672.82 1883.68,677.32 1887.67,681.79 1891.66,686.22 1895.65,690.61 1899.64,694.97 1903.63,699.29 1907.62,703.58 1911.61,707.83 1915.60,712.05 1919.59,716.22 1923.58,720.36 1927.57,724.46 1931.56,728.52 1935.55,732.54 1939.54,736.53" fill="none" stroke="#b88100" stroke-width="3.3" stroke-linejoin="round" clip-path="url(#ct1)"/>
<polyline points="1065.69,128.45 1069.68,128.75 1073.67,129.07 1077.66,129.40 1081.65,129.74 1085.64,130.09 1089.63,130.44 1093.62,130.81 1097.61,131.18 1101.60,131.57 1105.59,131.96 1109.58,132.36 1113.57,132.78 1117.56,133.21 1121.55,133.64 1125.54,134.09 1129.53,134.55 1133.52,135.03 1137.51,135.51 1141.50,136.01 1145.49,136.52 1149.48,137.05 1153.47,137.59 1157.46,138.14 1161.45,138.71 1165.44,139.29 1169.43,139.89 1173.42,140.50 1177.41,142.03 1181.40,142.67 1185.39,143.34 1189.38,144.01 1193.37,144.71 1197.36,145.42 1201.35,146.15 1205.35,146.90 1209.34,147.67 1213.33,148.46 1217.32,149.27 1221.31,150.09 1225.30,150.94 1229.29,151.81 1233.28,152.70 1237.27,153.62 1241.26,154.55 1245.25,155.51 1249.24,156.49 1253.23,157.50 1257.22,158.52 1261.21,158.81 1265.20,159.76 1269.19,160.44 1273.18,161.49 1277.17,162.91 1281.16,164.34 1285.15,165.55 1289.14,166.79 1293.13,168.06 1297.12,169.36 1301.11,170.69 1305.10,172.05 1309.09,173.45 1313.08,174.87 1317.07,176.32 1321.06,177.81 1325.05,179.33 1329.04,180.89 1333.03,182.47 1337.02,184.10 1341.01,185.76 1345.00,187.45 1348.99,189.18 1352.98,190.95 1356.97,192.76 1360.96,194.60 1364.95,196.48 1368.94,198.40 1372.93,200.36 1376.92,202.36 1380.91,204.40 1384.90,206.49 1388.89,208.61 1392.88,210.78 1396.87,212.99 1400.86,215.24 1404.85,217.54 1408.84,219.88 1412.84,222.26 1416.83,224.69 1420.82,227.17 1424.81,229.69 1428.80,232.25 1432.79,234.87 1436.78,237.53 1440.77,240.23 1444.76,242.99 1448.75,245.79 1452.74,248.64 1456.73,251.54 1460.72,254.48 1464.71,257.48 1468.70,260.52 1472.69,263.62 1476.68,266.76 1480.67,269.95 1484.66,273.19 1488.65,276.48 1492.64,279.82 1496.63,283.21 1500.62,286.65 1504.61,290.13 1508.60,293.67 1512.59,297.25 1516.58,300.89 1520.57,304.57 1524.56,308.30 1528.55,312.08 1532.54,315.91 1536.53,319.78 1540.52,323.70 1544.51,327.67 1548.50,331.68 1552.49,335.74 1556.48,339.85 1560.47,344.00 1564.46,348.19 1568.45,352.43 1572.44,356.71 1576.43,361.03 1580.42,365.39 1584.41,369.80 1588.40,374.24 1592.39,378.72 1596.38,383.23 1600.37,387.78 1604.36,392.35 1608.35,396.96 1612.34,401.60 1616.33,406.27 1620.33,410.98 1624.32,415.72 1628.31,420.48 1632.30,425.27 1636.29,430.10 1640.28,434.94 1644.27,439.81 1648.26,444.70 1652.25,449.62 1656.24,454.55 1660.23,459.51 1664.22,464.48 1668.21,469.47 1672.20,474.47 1676.19,479.49 1680.18,484.52 1684.17,489.57 1688.16,494.62 1692.15,499.68 1696.14,504.75 1700.13,509.82 1704.12,514.90 1708.11,519.98 1712.10,525.07 1716.09,530.15 1720.08,535.23 1724.07,540.31 1728.06,545.39 1732.05,550.47 1736.04,555.53 1740.03,560.59 1744.02,565.64 1748.01,570.68 1752.00,575.71 1755.99,580.73 1759.98,585.73 1763.97,590.72 1767.96,595.69 1771.95,600.65 1775.94,605.59 1779.93,610.50 1783.92,615.40 1787.91,620.28 1791.90,625.13 1795.89,629.96 1799.88,634.77 1803.87,639.55 1807.86,644.30 1811.85,649.03 1815.84,653.73 1819.83,658.39 1823.82,663.04 1827.82,667.65 1831.81,672.22 1835.80,676.77 1839.79,681.28 1843.78,685.76 1847.77,690.21 1851.76,694.62 1855.75,699.00 1859.74,703.34 1863.73,707.64 1867.72,711.91 1871.71,716.14 1875.70,720.33 1879.69,724.49 1883.68,728.60 1887.67,732.68 1891.66,736.72 1895.65,740.72 1899.64,744.67 1903.63,748.59 1907.62,752.47 1911.61,756.31 1915.60,760.10 1919.59,763.86 1923.58,767.57 1927.57,771.24 1931.56,774.87 1935.55,778.46 1939.54,782.01" fill="none" stroke="#d10000" stroke-width="3.3" stroke-linejoin="round" clip-path="url(#ct1)"/>
<polyline points="1065.69,118.02 1069.68,118.04 1073.67,118.06 1077.66,118.07 1081.65,118.09 1085.64,118.11 1089.63,118.13 1093.62,118.15 1097.61,118.17 1101.60,118.19 1105.59,118.21 1109.58,118.24 1113.57,118.26 1117.56,118.28 1121.55,118.31 1125.54,118.33 1129.53,118.36 1133.52,118.39 1137.51,118.41 1141.50,118.44 1145.49,118.47 1149.48,118.50 1153.47,118.53 1157.46,118.56 1161.45,118.60 1165.44,118.63 1169.43,118.67 1173.42,118.70 1177.41,119.64 1181.40,119.68 1185.39,119.72 1189.38,119.76 1193.37,119.80 1197.36,119.84 1201.35,119.88 1205.35,119.93 1209.34,119.97 1213.33,120.02 1217.32,120.07 1221.31,120.12 1225.30,120.17 1229.29,120.23 1233.28,120.28 1237.27,120.34 1241.26,120.39 1245.25,120.45 1249.24,120.52 1253.23,120.58 1257.22,120.64 1261.21,119.94 1265.20,119.88 1269.19,119.53 1273.18,119.52 1277.17,119.85 1281.16,120.17 1285.15,120.24 1289.14,120.32 1293.13,120.40 1297.12,120.48 1301.11,120.57 1305.10,120.65 1309.09,120.74 1313.08,120.83 1317.07,120.93 1321.06,121.03 1325.05,121.13 1329.04,121.23 1333.03,121.33 1337.02,121.44 1341.01,121.56 1345.00,121.67 1348.99,121.79 1352.98,121.91 1356.97,122.04 1360.96,122.17 1364.95,122.30 1368.94,122.44 1372.93,122.58 1376.92,122.72 1380.91,122.87 1384.90,123.02 1388.89,123.18 1392.88,123.34 1396.87,123.51 1400.86,123.68 1404.85,123.86 1408.84,124.04 1412.84,124.23 1416.83,124.42 1420.82,124.61 1424.81,124.82 1428.80,125.03 1432.79,125.24 1436.78,125.46 1440.77,125.69 1444.76,125.92 1448.75,126.16 1452.74,126.40 1456.73,126.65 1460.72,126.91 1464.71,127.18 1468.70,127.45 1472.69,127.74 1476.68,128.03 1480.67,128.32 1484.66,128.63 1488.65,128.94 1492.64,129.26 1496.63,129.59 1500.62,129.93 1504.61,130.28 1508.60,130.64 1512.59,131.01 1516.58,131.39 1520.57,131.78 1524.56,132.18 1528.55,132.59 1532.54,133.01 1536.53,133.44 1540.52,133.88 1544.51,134.34 1548.50,134.80 1552.49,135.28 1556.48,135.78 1560.47,136.28 1564.46,136.80 1568.45,137.33 1572.44,137.88 1576.43,138.44 1580.42,139.01 1584.41,139.60 1588.40,140.20 1592.39,140.82 1596.38,141.46 1600.37,142.11 1604.36,142.78 1608.35,143.46 1612.34,144.16 1616.33,144.88 1620.33,145.61 1624.32,146.37 1628.31,147.14 1632.30,147.93 1636.29,148.75 1640.28,149.58 1644.27,150.43 1648.26,151.30 1652.25,152.19 1656.24,153.11 1660.23,154.05 1664.22,155.00 1668.21,155.99 1672.20,156.99 1676.19,158.02 1680.18,159.07 1684.17,160.15 1688.16,161.25 1692.15,162.38 1696.14,163.53 1700.13,164.71 1704.12,165.92 1708.11,167.15 1712.10,168.41 1716.09,169.70 1720.08,171.02 1724.07,172.37 1728.06,173.74 1732.05,175.15 1736.04,176.58 1740.03,178.05 1744.02,179.55 1748.01,181.07 1752.00,182.63 1755.99,184.23 1759.98,185.85 1763.97,187.51 1767.96,189.20 1771.95,190.93 1775.94,192.69 1779.93,194.48 1783.92,196.31 1787.91,198.17 1791.90,200.07 1795.89,202.01 1799.88,203.98 1803.87,205.99 1807.86,208.04 1811.85,210.12 1815.84,212.24 1819.83,214.39 1823.82,216.59 1827.82,218.82 1831.81,221.09 1835.80,223.40 1839.79,225.75 1843.78,228.14 1847.77,230.56 1851.76,233.03 1855.75,235.53 1859.74,238.07 1863.73,240.65 1867.72,243.27 1871.71,245.93 1875.70,248.63 1879.69,251.36 1883.68,254.14 1887.67,256.96 1891.66,259.81 1895.65,262.70 1899.64,265.63 1903.63,268.60 1907.62,271.60 1911.61,274.65 1915.60,277.73 1919.59,280.85 1923.58,284.00 1927.57,287.19 1931.56,290.42 1935.55,293.68 1939.54,296.98" fill="none" stroke="#c100c1" stroke-width="3.3" stroke-linejoin="round" clip-path="url(#ct1)" stroke-dasharray="9.2 7.9"/>
<polyline points="1065.69,941.00 1069.68,940.76 1073.67,940.52 1077.66,940.28 1081.65,940.03 1085.64,939.77 1089.63,939.51 1093.62,939.25 1097.61,938.98 1101.60,938.72 1105.59,938.45 1109.58,938.18 1113.57,937.90 1117.56,937.62 1121.55,937.34 1125.54,937.05 1129.53,936.76 1133.52,936.46 1137.51,936.16 1141.50,935.85 1145.49,935.54 1149.48,935.22 1153.47,934.91 1157.46,934.58 1161.45,934.25 1165.44,933.92 1169.43,933.58 1173.42,933.23 1177.41,932.88 1181.40,932.53 1185.39,932.17 1189.38,931.81 1193.37,931.44 1197.36,931.06 1201.35,930.68 1205.35,930.29 1209.34,929.90 1213.33,929.50 1217.32,929.10 1221.31,928.69 1225.30,928.27 1229.29,927.85 1233.28,927.43 1237.27,926.99 1241.26,926.55 1245.25,926.10 1249.24,925.65 1253.23,925.19 1257.22,924.73 1261.21,924.25 1265.20,923.77 1269.19,923.29 1273.18,922.79 1277.17,922.29 1281.16,921.78 1285.15,921.27 1289.14,920.74 1293.13,920.21 1297.12,919.67 1301.11,919.13 1305.10,918.57 1309.09,918.01 1313.08,917.44 1317.07,916.86 1321.06,916.28 1325.05,915.68 1329.04,915.08 1333.03,914.46 1337.02,913.84 1341.01,913.21 1345.00,912.57 1348.99,911.93 1352.98,911.27 1356.97,910.60 1360.96,909.92 1364.95,909.24 1368.94,908.54 1372.93,907.84 1376.92,907.12 1380.91,906.39 1384.90,905.66 1388.89,904.91 1392.88,904.15 1396.87,903.38 1400.86,902.60 1404.85,901.81 1408.84,901.01 1412.84,900.20 1416.83,899.37 1420.82,898.54 1424.81,897.69 1428.80,896.83 1432.79,895.96 1436.78,895.07 1440.77,894.17 1444.76,893.26 1448.75,892.34 1452.74,891.41 1456.73,890.46 1460.72,889.50 1464.71,888.52 1468.70,887.53 1472.69,886.53 1476.68,885.51 1480.67,884.48 1484.66,883.43 1488.65,882.37 1492.64,881.30 1496.63,880.21 1500.62,879.10 1504.61,877.98 1508.60,876.85 1512.59,875.69 1516.58,874.53 1520.57,873.34 1524.56,872.14 1528.55,870.92 1532.54,869.69 1536.53,868.44 1540.52,867.17 1544.51,865.89 1548.50,864.58 1552.49,863.26 1556.48,861.93 1560.47,860.57 1564.46,859.19 1568.45,857.80 1572.44,856.39 1576.43,854.95 1580.42,853.50 1584.41,852.03 1588.40,850.54 1592.39,849.03 1596.38,847.50 1600.37,845.95 1604.36,844.37 1608.35,842.78 1612.34,841.16 1616.33,839.53 1620.33,837.87 1624.32,836.19 1628.31,834.48 1632.30,832.76 1636.29,831.01 1640.28,829.24 1644.27,827.44 1648.26,825.63 1652.25,823.78 1656.24,821.92 1660.23,820.03 1664.22,818.11 1668.21,816.17 1672.20,814.21 1676.19,812.22 1680.18,810.20 1684.17,808.16 1688.16,806.09 1692.15,804.00 1696.14,801.87 1700.13,799.72 1704.12,797.55 1708.11,795.35 1712.10,793.12 1716.09,790.86 1720.08,788.57 1724.07,786.25 1728.06,783.91 1732.05,781.53 1736.04,779.13 1740.03,776.70 1744.02,774.24 1748.01,771.74 1752.00,769.22 1755.99,766.67 1759.98,764.08 1763.97,761.46 1767.96,758.82 1771.95,756.14 1775.94,753.43 1779.93,750.68 1783.92,747.91 1787.91,745.10 1791.90,742.26 1795.89,739.38 1799.88,736.48 1803.87,733.54 1807.86,730.56 1811.85,727.55 1815.84,724.51 1819.83,721.43 1823.82,718.32 1827.82,715.17 1831.81,711.99 1835.80,708.78 1839.79,705.52 1843.78,702.24 1847.77,698.92 1851.76,695.56 1855.75,692.16 1859.74,688.73 1863.73,685.27 1867.72,681.76 1871.71,678.22 1875.70,674.65 1879.69,671.04 1883.68,667.39 1887.67,663.70 1891.66,659.98 1895.65,656.23 1899.64,652.43 1903.63,648.60 1907.62,644.73 1911.61,640.83 1915.60,636.89 1919.59,632.91 1923.58,628.89 1927.57,624.84 1931.56,620.76 1935.55,616.63 1939.54,612.47" fill="none" stroke="#919191" stroke-width="3.3" stroke-linejoin="round" clip-path="url(#cb1)"/>
<polyline points="1065.69,941.01 1069.68,940.77 1073.67,940.53 1077.66,940.29 1081.65,940.04 1085.64,939.78 1089.63,939.52 1093.62,939.26 1097.61,939.00 1101.60,938.73 1105.59,938.47 1109.58,938.19 1113.57,937.92 1117.56,937.64 1121.55,937.36 1125.54,937.07 1129.53,936.78 1133.52,936.48 1137.51,936.18 1141.50,935.87 1145.49,935.56 1149.48,935.25 1153.47,934.93 1157.46,934.61 1161.45,934.28 1165.44,933.95 1169.43,933.61 1173.42,933.26 1177.41,932.92 1181.40,932.56 1185.39,932.21 1189.38,931.84 1193.37,931.47 1197.36,931.10 1201.35,930.72 1205.35,930.34 1209.34,929.95 1213.33,929.55 1217.32,929.15 1221.31,928.74 1225.30,928.33 1229.29,927.91 1233.28,927.48 1237.27,927.05 1241.26,926.62 1245.25,926.17 1249.24,925.72 1253.23,925.27 1257.22,924.80 1261.21,924.33 1265.20,923.86 1269.19,923.37 1273.18,922.88 1277.17,922.39 1281.16,921.88 1285.15,921.37 1289.14,920.85 1293.13,920.33 1297.12,919.79 1301.11,919.25 1305.10,918.70 1309.09,918.15 1313.08,917.58 1317.07,917.01 1321.06,916.43 1325.05,915.84 1329.04,915.24 1333.03,914.64 1337.02,914.03 1341.01,913.40 1345.00,912.77 1348.99,912.13 1352.98,911.49 1356.97,910.83 1360.96,910.16 1364.95,909.49 1368.94,908.80 1372.93,908.11 1376.92,907.40 1380.91,906.69 1384.90,905.96 1388.89,905.23 1392.88,904.49 1396.87,903.73 1400.86,902.97 1404.85,902.19 1408.84,901.41 1412.84,900.61 1416.83,899.81 1420.82,898.99 1424.81,898.16 1428.80,897.32 1432.79,896.47 1436.78,895.61 1440.77,894.73 1444.76,893.85 1448.75,892.95 1452.74,892.04 1456.73,891.12 1460.72,890.19 1464.71,889.24 1468.70,888.28 1472.69,887.31 1476.68,886.33 1480.67,885.33 1484.66,884.33 1488.65,883.30 1492.64,882.27 1496.63,881.22 1500.62,880.16 1504.61,879.08 1508.60,878.00 1512.59,876.89 1516.58,875.78 1520.57,874.65 1524.56,873.50 1528.55,872.34 1532.54,871.17 1536.53,869.99 1540.52,868.78 1544.51,867.57 1548.50,866.34 1552.49,865.09 1556.48,863.83 1560.47,862.55 1564.46,861.26 1568.45,859.96 1572.44,858.64 1576.43,857.30 1580.42,855.95 1584.41,854.58 1588.40,853.20 1592.39,851.80 1596.38,850.38 1600.37,848.95 1604.36,847.51 1608.35,846.04 1612.34,844.57 1616.33,843.07 1620.33,841.56 1624.32,840.04 1628.31,838.49 1632.30,836.93 1636.29,835.36 1640.28,833.77 1644.27,832.16 1648.26,830.54 1652.25,828.90 1656.24,827.24 1660.23,825.57 1664.22,823.89 1668.21,822.18 1672.20,820.46 1676.19,818.73 1680.18,816.98 1684.17,815.21 1688.16,813.43 1692.15,811.63 1696.14,809.81 1700.13,807.98 1704.12,806.14 1708.11,804.28 1712.10,802.40 1716.09,800.51 1720.08,798.61 1724.07,796.69 1728.06,794.75 1732.05,792.80 1736.04,790.84 1740.03,788.86 1744.02,786.87 1748.01,784.87 1752.00,782.85 1755.99,780.82 1759.98,778.77 1763.97,776.72 1767.96,774.65 1771.95,772.57 1775.94,770.47 1779.93,768.36 1783.92,766.25 1787.91,764.12 1791.90,761.98 1795.89,759.83 1799.88,757.67 1803.87,755.50 1807.86,753.31 1811.85,751.12 1815.84,748.92 1819.83,746.72 1823.82,744.50 1827.82,742.27 1831.81,740.04 1835.80,737.80 1839.79,735.55 1843.78,733.29 1847.77,731.03 1851.76,728.76 1855.75,726.48 1859.74,724.20 1863.73,721.92 1867.72,719.63 1871.71,717.33 1875.70,715.03 1879.69,712.73 1883.68,710.42 1887.67,708.11 1891.66,705.80 1895.65,703.48 1899.64,701.17 1903.63,698.85 1907.62,696.52 1911.61,694.20 1915.60,691.88 1919.59,689.56 1923.58,687.23 1927.57,684.91 1931.56,682.59 1935.55,680.27 1939.54,677.94" fill="none" stroke="#0000e0" stroke-width="3.3" stroke-linejoin="round" clip-path="url(#cb1)"/>
<polyline points="1065.69,941.03 1069.68,940.79 1073.67,940.55 1077.66,940.31 1081.65,940.06 1085.64,939.81 1089.63,939.55 1093.62,939.28 1097.61,939.02 1101.60,938.76 1105.59,938.49 1109.58,938.22 1113.57,937.95 1117.56,937.67 1121.55,937.39 1125.54,937.10 1129.53,936.81 1133.52,936.52 1137.51,936.22 1141.50,935.91 1145.49,935.61 1149.48,935.29 1153.47,934.98 1157.46,934.65 1161.45,934.33 1165.44,934.00 1169.43,933.66 1173.42,933.32 1177.41,932.98 1181.40,932.63 1185.39,932.27 1189.38,931.91 1193.37,931.55 1197.36,931.18 1201.35,930.80 1205.35,930.42 1209.34,930.03 1213.33,929.64 1217.32,929.24 1221.31,928.84 1225.30,928.43 1229.29,928.01 1233.28,927.59 1237.27,927.17 1241.26,926.73 1245.25,926.30 1249.24,925.85 1253.23,925.40 1257.22,924.94 1261.21,924.48 1265.20,924.01 1269.19,923.53 1273.18,923.05 1277.17,922.56 1281.16,922.06 1285.15,921.56 1289.14,921.05 1293.13,920.53 1297.12,920.01 1301.11,919.47 1305.10,918.94 1309.09,918.39 1313.08,917.84 1317.07,917.27 1321.06,916.70 1325.05,916.13 1329.04,915.54 1333.03,914.95 1337.02,914.35 1341.01,913.74 1345.00,913.13 1348.99,912.50 1352.98,911.87 1356.97,911.23 1360.96,910.58 1364.95,909.92 1368.94,909.25 1372.93,908.58 1376.92,907.89 1380.91,907.20 1384.90,906.50 1388.89,905.79 1392.88,905.07 1396.87,904.34 1400.86,903.60 1404.85,902.85 1408.84,902.09 1412.84,901.32 1416.83,900.55 1420.82,899.76 1424.81,898.96 1428.80,898.16 1432.79,897.34 1436.78,896.51 1440.77,895.68 1444.76,894.83 1448.75,893.97 1452.74,893.11 1456.73,892.23 1460.72,891.34 1464.71,890.44 1468.70,889.53 1472.69,888.62 1476.68,887.69 1480.67,886.74 1484.66,885.79 1488.65,884.83 1492.64,883.86 1496.63,882.87 1500.62,881.88 1504.61,880.87 1508.60,879.86 1512.59,878.83 1516.58,877.79 1520.57,876.74 1524.56,875.68 1528.55,874.61 1532.54,873.52 1536.53,872.43 1540.52,871.33 1544.51,870.21 1548.50,869.08 1552.49,867.94 1556.48,866.79 1560.47,865.63 1564.46,864.46 1568.45,863.28 1572.44,862.09 1576.43,860.88 1580.42,859.67 1584.41,858.45 1588.40,857.21 1592.39,855.96 1596.38,854.71 1600.37,853.44 1604.36,852.16 1608.35,850.87 1612.34,849.58 1616.33,848.27 1620.33,846.95 1624.32,845.63 1628.31,844.29 1632.30,842.94 1636.29,841.59 1640.28,840.22 1644.27,838.85 1648.26,837.47 1652.25,836.08 1656.24,834.68 1660.23,833.27 1664.22,831.86 1668.21,830.44 1672.20,829.01 1676.19,827.57 1680.18,826.12 1684.17,824.67 1688.16,823.22 1692.15,821.75 1696.14,820.28 1700.13,818.80 1704.12,817.32 1708.11,815.83 1712.10,814.34 1716.09,812.84 1720.08,811.34 1724.07,809.84 1728.06,808.32 1732.05,806.81 1736.04,805.29 1740.03,803.77 1744.02,802.25 1748.01,800.72 1752.00,799.20 1755.99,797.67 1759.98,796.13 1763.97,794.60 1767.96,793.07 1771.95,791.53 1775.94,790.00 1779.93,788.46 1783.92,786.93 1787.91,785.40 1791.90,783.86 1795.89,782.33 1799.88,780.80 1803.87,779.27 1807.86,777.75 1811.85,776.22 1815.84,774.70 1819.83,773.18 1823.82,771.67 1827.82,770.16 1831.81,768.65 1835.80,767.15 1839.79,765.65 1843.78,764.15 1847.77,762.66 1851.76,761.18 1855.75,759.70 1859.74,758.23 1863.73,756.76 1867.72,755.30 1871.71,753.85 1875.70,752.40 1879.69,750.96 1883.68,749.53 1887.67,748.10 1891.66,746.68 1895.65,745.27 1899.64,743.87 1903.63,742.48 1907.62,741.09 1911.61,739.71 1915.60,738.34 1919.59,736.98 1923.58,735.63 1927.57,734.29 1931.56,732.96 1935.55,731.63 1939.54,730.32" fill="none" stroke="#00a1c1" stroke-width="3.3" stroke-linejoin="round" clip-path="url(#cb1)"/>
<polyline points="1065.69,941.05 1069.68,940.82 1073.67,940.58 1077.66,940.34 1081.65,940.09 1085.64,939.84 1089.63,939.58 1093.62,939.32 1097.61,939.06 1101.60,938.80 1105.59,938.53 1109.58,938.26 1113.57,937.99 1117.56,937.72 1121.55,937.44 1125.54,937.15 1129.53,936.86 1133.52,936.57 1137.51,936.27 1141.50,935.97 1145.49,935.67 1149.48,935.36 1153.47,935.04 1157.46,934.72 1161.45,934.40 1165.44,934.07 1169.43,933.74 1173.42,933.40 1177.41,933.06 1181.40,932.71 1185.39,932.36 1189.38,932.01 1193.37,931.65 1197.36,931.28 1201.35,930.91 1205.35,930.53 1209.34,930.15 1213.33,929.76 1217.32,929.37 1221.31,928.97 1225.30,928.57 1229.29,928.16 1233.28,927.74 1237.27,927.32 1241.26,926.90 1245.25,926.47 1249.24,926.03 1253.23,925.59 1257.22,925.14 1261.21,924.68 1265.20,924.22 1269.19,923.75 1273.18,923.28 1277.17,922.80 1281.16,922.31 1285.15,921.82 1289.14,921.32 1293.13,920.81 1297.12,920.30 1301.11,919.78 1305.10,919.25 1309.09,918.72 1313.08,918.18 1317.07,917.63 1321.06,917.08 1325.05,916.51 1329.04,915.95 1333.03,915.37 1337.02,914.79 1341.01,914.20 1345.00,913.60 1348.99,912.99 1352.98,912.38 1356.97,911.76 1360.96,911.13 1364.95,910.50 1368.94,909.85 1372.93,909.20 1376.92,908.54 1380.91,907.88 1384.90,907.20 1388.89,906.52 1392.88,905.83 1396.87,905.13 1400.86,904.42 1404.85,903.70 1408.84,902.98 1412.84,902.25 1416.83,901.51 1420.82,900.76 1424.81,900.00 1428.80,899.24 1432.79,898.46 1436.78,897.68 1440.77,896.89 1444.76,896.09 1448.75,895.28 1452.74,894.47 1456.73,893.64 1460.72,892.81 1464.71,891.97 1468.70,891.12 1472.69,890.26 1476.68,889.39 1480.67,888.52 1484.66,887.63 1488.65,886.74 1492.64,885.84 1496.63,884.93 1500.62,884.01 1504.61,883.09 1508.60,882.15 1512.59,881.21 1516.58,880.26 1520.57,879.30 1524.56,878.34 1528.55,877.36 1532.54,876.38 1536.53,875.39 1540.52,874.40 1544.51,873.39 1548.50,872.38 1552.49,871.36 1556.48,870.33 1560.47,869.30 1564.46,868.26 1568.45,867.21 1572.44,866.15 1576.43,865.09 1580.42,864.02 1584.41,862.95 1588.40,861.87 1592.39,860.78 1596.38,859.69 1600.37,858.59 1604.36,857.49 1608.35,856.38 1612.34,855.27 1616.33,854.15 1620.33,853.03 1624.32,851.90 1628.31,850.77 1632.30,849.63 1636.29,848.49 1640.28,847.35 1644.27,846.20 1648.26,845.05 1652.25,843.90 1656.24,842.74 1660.23,841.59 1664.22,840.43 1668.21,839.26 1672.20,838.10 1676.19,836.93 1680.18,835.77 1684.17,834.60 1688.16,833.43 1692.15,832.26 1696.14,831.10 1700.13,829.93 1704.12,828.76 1708.11,827.59 1712.10,826.43 1716.09,825.26 1720.08,824.10 1724.07,822.94 1728.06,821.78 1732.05,820.62 1736.04,819.46 1740.03,818.31 1744.02,817.16 1748.01,816.01 1752.00,814.87 1755.99,813.73 1759.98,812.60 1763.97,811.47 1767.96,810.34 1771.95,809.22 1775.94,808.10 1779.93,806.99 1783.92,805.89 1787.91,804.78 1791.90,803.69 1795.89,802.60 1799.88,801.52 1803.87,800.44 1807.86,799.37 1811.85,798.31 1815.84,797.25 1819.83,796.21 1823.82,795.16 1827.82,794.13 1831.81,793.10 1835.80,792.08 1839.79,791.07 1843.78,790.07 1847.77,789.08 1851.76,788.09 1855.75,787.11 1859.74,786.14 1863.73,785.18 1867.72,784.23 1871.71,783.28 1875.70,782.35 1879.69,781.42 1883.68,780.50 1887.67,779.59 1891.66,778.69 1895.65,777.80 1899.64,776.92 1903.63,776.05 1907.62,775.19 1911.61,774.33 1915.60,773.49 1919.59,772.65 1923.58,771.83 1927.57,771.01 1931.56,770.20 1935.55,769.40 1939.54,768.61" fill="none" stroke="#00c100" stroke-width="3.3" stroke-linejoin="round" clip-path="url(#cb1)"/>
<polyline points="1065.69,941.08 1069.68,940.85 1073.67,940.62 1077.66,940.38 1081.65,940.13 1085.64,939.88 1089.63,939.62 1093.62,939.36 1097.61,939.10 1101.60,938.84 1105.59,938.58 1109.58,938.32 1113.57,938.05 1117.56,937.77 1121.55,937.49 1125.54,937.21 1129.53,936.93 1133.52,936.64 1137.51,936.34 1141.50,936.04 1145.49,935.74 1149.48,935.44 1153.47,935.12 1157.46,934.81 1161.45,934.49 1165.44,934.17 1169.43,933.84 1173.42,933.50 1177.41,933.17 1181.40,932.82 1185.39,932.48 1189.38,932.13 1193.37,931.77 1197.36,931.41 1201.35,931.04 1205.35,930.67 1209.34,930.30 1213.33,929.91 1217.32,929.53 1221.31,929.14 1225.30,928.74 1229.29,928.34 1233.28,927.93 1237.27,927.52 1241.26,927.10 1245.25,926.68 1249.24,926.25 1253.23,925.81 1257.22,925.37 1261.21,924.93 1265.20,924.48 1269.19,924.02 1273.18,923.56 1277.17,923.09 1281.16,922.61 1285.15,922.13 1289.14,921.64 1293.13,921.15 1297.12,920.65 1301.11,920.15 1305.10,919.63 1309.09,919.12 1313.08,918.59 1317.07,918.06 1321.06,917.52 1325.05,916.98 1329.04,916.43 1333.03,915.87 1337.02,915.31 1341.01,914.74 1345.00,914.17 1348.99,913.58 1352.98,912.99 1356.97,912.40 1360.96,911.79 1364.95,911.18 1368.94,910.57 1372.93,909.94 1376.92,909.31 1380.91,908.68 1384.90,908.03 1388.89,907.38 1392.88,906.72 1396.87,906.06 1400.86,905.39 1404.85,904.71 1408.84,904.02 1412.84,903.33 1416.83,902.63 1420.82,901.92 1424.81,901.21 1428.80,900.49 1432.79,899.76 1436.78,899.03 1440.77,898.29 1444.76,897.54 1448.75,896.79 1452.74,896.03 1456.73,895.26 1460.72,894.49 1464.71,893.71 1468.70,892.92 1472.69,892.13 1476.68,891.33 1480.67,890.52 1484.66,889.71 1488.65,888.89 1492.64,888.07 1496.63,887.24 1500.62,886.40 1504.61,885.56 1508.60,884.71 1512.59,883.86 1516.58,883.00 1520.57,882.13 1524.56,881.26 1528.55,880.39 1532.54,879.51 1536.53,878.63 1540.52,877.74 1544.51,876.84 1548.50,875.95 1552.49,875.04 1556.48,874.14 1560.47,873.23 1564.46,872.31 1568.45,871.40 1572.44,870.47 1576.43,869.55 1580.42,868.62 1584.41,867.69 1588.40,866.76 1592.39,865.83 1596.38,864.89 1600.37,863.95 1604.36,863.01 1608.35,862.06 1612.34,861.12 1616.33,860.18 1620.33,859.23 1624.32,858.28 1628.31,857.33 1632.30,856.39 1636.29,855.44 1640.28,854.49 1644.27,853.54 1648.26,852.59 1652.25,851.65 1656.24,850.70 1660.23,849.76 1664.22,848.81 1668.21,847.87 1672.20,846.93 1676.19,846.00 1680.18,845.06 1684.17,844.13 1688.16,843.20 1692.15,842.27 1696.14,841.35 1700.13,840.43 1704.12,839.51 1708.11,838.60 1712.10,837.69 1716.09,836.79 1720.08,835.89 1724.07,834.99 1728.06,834.10 1732.05,833.22 1736.04,832.34 1740.03,831.46 1744.02,830.59 1748.01,829.73 1752.00,828.87 1755.99,828.02 1759.98,827.17 1763.97,826.33 1767.96,825.50 1771.95,824.67 1775.94,823.85 1779.93,823.04 1783.92,822.24 1787.91,821.44 1791.90,820.64 1795.89,819.86 1799.88,819.08 1803.87,818.31 1807.86,817.55 1811.85,816.79 1815.84,816.04 1819.83,815.30 1823.82,814.57 1827.82,813.85 1831.81,813.13 1835.80,812.42 1839.79,811.72 1843.78,811.03 1847.77,810.34 1851.76,809.66 1855.75,808.99 1859.74,808.33 1863.73,807.68 1867.72,807.03 1871.71,806.39 1875.70,805.76 1879.69,805.14 1883.68,804.53 1887.67,803.92 1891.66,803.32 1895.65,802.73 1899.64,802.14 1903.63,801.57 1907.62,801.00 1911.61,800.44 1915.60,799.88 1919.59,799.34 1923.58,798.80 1927.57,798.26 1931.56,797.74 1935.55,797.22 1939.54,796.71" fill="none" stroke="#c1b500" stroke-width="3.3" stroke-linejoin="round" clip-path="url(#cb1)"/>
<polyline points="1065.69,941.12 1069.68,940.89 1073.67,940.66 1077.66,940.42 1081.65,940.18 1085.64,939.93 1089.63,939.67 1093.62,939.41 1097.61,939.16 1101.60,938.90 1105.59,938.64 1109.58,938.38 1113.57,938.11 1117.56,937.84 1121.55,937.56 1125.54,937.29 1129.53,937.00 1133.52,936.72 1137.51,936.42 1141.50,936.13 1145.49,935.83 1149.48,935.53 1153.47,935.22 1157.46,934.91 1161.45,934.60 1165.44,934.28 1169.43,933.95 1173.42,933.62 1177.41,933.29 1181.40,932.95 1185.39,932.61 1189.38,932.27 1193.37,931.92 1197.36,931.56 1201.35,931.20 1205.35,930.84 1209.34,930.47 1213.33,930.09 1217.32,929.71 1221.31,929.33 1225.30,928.94 1229.29,928.55 1233.28,928.15 1237.27,927.75 1241.26,927.34 1245.25,926.92 1249.24,926.50 1253.23,926.08 1257.22,925.65 1261.21,925.21 1265.20,924.77 1269.19,924.33 1273.18,923.88 1277.17,923.42 1281.16,922.96 1285.15,922.49 1289.14,922.02 1293.13,921.54 1297.12,921.06 1301.11,920.57 1305.10,920.07 1309.09,919.57 1313.08,919.07 1317.07,918.55 1321.06,918.04 1325.05,917.51 1329.04,916.98 1333.03,916.45 1337.02,915.91 1341.01,915.36 1345.00,914.81 1348.99,914.25 1352.98,913.68 1356.97,913.11 1360.96,912.54 1364.95,911.95 1368.94,911.37 1372.93,910.77 1376.92,910.17 1380.91,909.57 1384.90,908.96 1388.89,908.34 1392.88,907.72 1396.87,907.09 1400.86,906.46 1404.85,905.82 1408.84,905.17 1412.84,904.52 1416.83,903.86 1420.82,903.20 1424.81,902.54 1428.80,901.86 1432.79,901.19 1436.78,900.50 1440.77,899.81 1444.76,899.12 1448.75,898.42 1452.74,897.72 1456.73,897.01 1460.72,896.30 1464.71,895.58 1468.70,894.85 1472.69,894.13 1476.68,893.40 1480.67,892.66 1484.66,891.92 1488.65,891.17 1492.64,890.43 1496.63,889.67 1500.62,888.92 1504.61,888.16 1508.60,887.39 1512.59,886.63 1516.58,885.86 1520.57,885.09 1524.56,884.31 1528.55,883.53 1532.54,882.75 1536.53,881.97 1540.52,881.18 1544.51,880.39 1548.50,879.60 1552.49,878.81 1556.48,878.02 1560.47,877.22 1564.46,876.43 1568.45,875.63 1572.44,874.83 1576.43,874.03 1580.42,873.23 1584.41,872.43 1588.40,871.63 1592.39,870.83 1596.38,870.03 1600.37,869.24 1604.36,868.44 1608.35,867.64 1612.34,866.84 1616.33,866.05 1620.33,865.26 1624.32,864.46 1628.31,863.67 1632.30,862.89 1636.29,862.10 1640.28,861.32 1644.27,860.54 1648.26,859.76 1652.25,858.98 1656.24,858.21 1660.23,857.44 1664.22,856.68 1668.21,855.91 1672.20,855.16 1676.19,854.40 1680.18,853.65 1684.17,852.91 1688.16,852.17 1692.15,851.43 1696.14,850.70 1700.13,849.97 1704.12,849.25 1708.11,848.54 1712.10,847.83 1716.09,847.12 1720.08,846.42 1724.07,845.73 1728.06,845.04 1732.05,844.35 1736.04,843.68 1740.03,843.01 1744.02,842.34 1748.01,841.69 1752.00,841.03 1755.99,840.39 1759.98,839.75 1763.97,839.12 1767.96,838.49 1771.95,837.87 1775.94,837.26 1779.93,836.66 1783.92,836.06 1787.91,835.47 1791.90,834.88 1795.89,834.30 1799.88,833.73 1803.87,833.17 1807.86,832.61 1811.85,832.06 1815.84,831.51 1819.83,830.98 1823.82,830.44 1827.82,829.92 1831.81,829.40 1835.80,828.89 1839.79,828.39 1843.78,827.89 1847.77,827.40 1851.76,826.92 1855.75,826.44 1859.74,825.97 1863.73,825.51 1867.72,825.05 1871.71,824.60 1875.70,824.15 1879.69,823.71 1883.68,823.28 1887.67,822.85 1891.66,822.43 1895.65,822.01 1899.64,821.60 1903.63,821.20 1907.62,820.80 1911.61,820.41 1915.60,820.02 1919.59,819.64 1923.58,819.26 1927.57,818.89 1931.56,818.52 1935.55,818.16 1939.54,817.80" fill="none" stroke="#b88100" stroke-width="3.3" stroke-linejoin="round" clip-path="url(#cb1)"/>
<polyline points="1065.69,941.17 1069.68,940.94 1073.67,940.71 1077.66,940.47 1081.65,940.23 1085.64,939.98 1089.63,939.73 1093.62,939.48 1097.61,939.22 1101.60,938.97 1105.59,938.71 1109.58,938.45 1113.57,938.19 1117.56,937.92 1121.55,937.64 1125.54,937.37 1129.53,937.09 1133.52,936.81 1137.51,936.52 1141.50,936.23 1145.49,935.93 1149.48,935.64 1153.47,935.33 1157.46,935.03 1161.45,934.72 1165.44,934.40 1169.43,934.08 1173.42,933.76 1177.41,933.43 1181.40,933.10 1185.39,932.76 1189.38,932.42 1193.37,932.08 1197.36,931.73 1201.35,931.38 1205.35,931.02 1209.34,930.66 1213.33,930.29 1217.32,929.92 1221.31,929.55 1225.30,929.17 1229.29,928.78 1233.28,928.39 1237.27,928.00 1241.26,927.60 1245.25,927.20 1249.24,926.79 1253.23,926.37 1257.22,925.96 1261.21,925.53 1265.20,925.11 1269.19,924.67 1273.18,924.24 1277.17,923.79 1281.16,923.35 1285.15,922.89 1289.14,922.44 1293.13,921.97 1297.12,921.51 1301.11,921.03 1305.10,920.56 1309.09,920.07 1313.08,919.59 1317.07,919.09 1321.06,918.60 1325.05,918.09 1329.04,917.58 1333.03,917.07 1337.02,916.55 1341.01,916.03 1345.00,915.50 1348.99,914.97 1352.98,914.43 1356.97,913.89 1360.96,913.34 1364.95,912.79 1368.94,912.23 1372.93,911.67 1376.92,911.10 1380.91,910.53 1384.90,909.95 1388.89,909.37 1392.88,908.79 1396.87,908.19 1400.86,907.60 1404.85,907.00 1408.84,906.40 1412.84,905.79 1416.83,905.18 1420.82,904.56 1424.81,903.94 1428.80,903.31 1432.79,902.68 1436.78,902.05 1440.77,901.41 1444.76,900.77 1448.75,900.13 1452.74,899.48 1456.73,898.83 1460.72,898.18 1464.71,897.52 1468.70,896.86 1472.69,896.20 1476.68,895.53 1480.67,894.86 1484.66,894.19 1488.65,893.52 1492.64,892.84 1496.63,892.17 1500.62,891.49 1504.61,890.80 1508.60,890.12 1512.59,889.44 1516.58,888.75 1520.57,888.06 1524.56,887.37 1528.55,886.68 1532.54,885.99 1536.53,885.30 1540.52,884.61 1544.51,883.92 1548.50,883.23 1552.49,882.54 1556.48,881.84 1560.47,881.15 1564.46,880.46 1568.45,879.77 1572.44,879.08 1576.43,878.40 1580.42,877.71 1584.41,877.02 1588.40,876.34 1592.39,875.66 1596.38,874.98 1600.37,874.30 1604.36,873.63 1608.35,872.95 1612.34,872.28 1616.33,871.62 1620.33,870.95 1624.32,870.29 1628.31,869.63 1632.30,868.98 1636.29,868.32 1640.28,867.68 1644.27,867.03 1648.26,866.39 1652.25,865.76 1656.24,865.12 1660.23,864.50 1664.22,863.87 1668.21,863.26 1672.20,862.64 1676.19,862.03 1680.18,861.43 1684.17,860.83 1688.16,860.24 1692.15,859.65 1696.14,859.07 1700.13,858.49 1704.12,857.91 1708.11,857.35 1712.10,856.79 1716.09,856.23 1720.08,855.68 1724.07,855.14 1728.06,854.60 1732.05,854.06 1736.04,853.54 1740.03,853.02 1744.02,852.50 1748.01,851.99 1752.00,851.49 1755.99,850.99 1759.98,850.50 1763.97,850.02 1767.96,849.54 1771.95,849.07 1775.94,848.60 1779.93,848.14 1783.92,847.68 1787.91,847.23 1791.90,846.79 1795.89,846.35 1799.88,845.92 1803.87,845.49 1807.86,845.07 1811.85,844.66 1815.84,844.25 1819.83,843.85 1823.82,843.45 1827.82,843.06 1831.81,842.67 1835.80,842.29 1839.79,841.92 1843.78,841.55 1847.77,841.18 1851.76,840.82 1855.75,840.47 1859.74,840.12 1863.73,839.77 1867.72,839.43 1871.71,839.09 1875.70,838.76 1879.69,838.44 1883.68,838.11 1887.67,837.80 1891.66,837.48 1895.65,837.17 1899.64,836.87 1903.63,836.57 1907.62,836.27 1911.61,835.98 1915.60,835.69 1919.59,835.40 1923.58,835.12 1927.57,834.84 1931.56,834.56 1935.55,834.29 1939.54,834.02" fill="none" stroke="#d10000" stroke-width="3.3" stroke-linejoin="round" clip-path="url(#cb1)"/>
<polyline points="1065.69,940.93 1069.68,940.69 1073.67,940.45 1077.66,940.21 1081.65,939.95 1085.64,939.70 1089.63,939.43 1093.62,939.17 1097.61,938.91 1101.60,938.64 1105.59,938.37 1109.58,938.10 1113.57,937.82 1117.56,937.54 1121.55,937.26 1125.54,936.97 1129.53,936.67 1133.52,936.38 1137.51,936.07 1141.50,935.77 1145.49,935.45 1149.48,935.14 1153.47,934.82 1157.46,934.49 1161.45,934.16 1165.44,933.83 1169.43,933.49 1173.42,933.14 1177.41,932.79 1181.40,932.44 1185.39,932.08 1189.38,931.72 1193.37,931.35 1197.36,930.97 1201.35,930.59 1205.35,930.20 1209.34,929.81 1213.33,929.41 1217.32,929.01 1221.31,928.60 1225.30,928.18 1229.29,927.76 1233.28,927.33 1237.27,926.90 1241.26,926.46 1245.25,926.02 1249.24,925.56 1253.23,925.10 1257.22,924.64 1261.21,924.17 1265.20,923.69 1269.19,923.20 1273.18,922.71 1277.17,922.21 1281.16,921.70 1285.15,921.19 1289.14,920.67 1293.13,920.14 1297.12,919.60 1301.11,919.06 1305.10,918.51 1309.09,917.95 1313.08,917.38 1317.07,916.81 1321.06,916.22 1325.05,915.63 1329.04,915.03 1333.03,914.42 1337.02,913.81 1341.01,913.18 1345.00,912.55 1348.99,911.90 1352.98,911.25 1356.97,910.59 1360.96,909.92 1364.95,909.24 1368.94,908.55 1372.93,907.85 1376.92,907.15 1380.91,906.43 1384.90,905.70 1388.89,904.96 1392.88,904.22 1396.87,903.46 1400.86,902.69 1404.85,901.91 1408.84,901.12 1412.84,900.32 1416.83,899.51 1420.82,898.69 1424.81,897.86 1428.80,897.01 1432.79,896.16 1436.78,895.29 1440.77,894.41 1444.76,893.52 1448.75,892.62 1452.74,891.70 1456.73,890.78 1460.72,889.84 1464.71,888.89 1468.70,887.93 1472.69,886.95 1476.68,885.96 1480.67,884.96 1484.66,883.95 1488.65,882.92 1492.64,881.88 1496.63,880.82 1500.62,879.76 1504.61,878.68 1508.60,877.58 1512.59,876.47 1516.58,875.35 1520.57,874.21 1524.56,873.06 1528.55,871.90 1532.54,870.72 1536.53,869.53 1540.52,868.32 1544.51,867.09 1548.50,865.86 1552.49,864.60 1556.48,863.34 1560.47,862.05 1564.46,860.75 1568.45,859.44 1572.44,858.11 1576.43,856.77 1580.42,855.41 1584.41,854.03 1588.40,852.64 1592.39,851.23 1596.38,849.81 1600.37,848.37 1604.36,846.92 1608.35,845.44 1612.34,843.96 1616.33,842.45 1620.33,840.93 1624.32,839.40 1628.31,837.85 1632.30,836.28 1636.29,834.69 1640.28,833.09 1644.27,831.48 1648.26,829.84 1652.25,828.19 1656.24,826.53 1660.23,824.85 1664.22,823.15 1668.21,821.43 1672.20,819.70 1676.19,817.96 1680.18,816.19 1684.17,814.41 1688.16,812.62 1692.15,810.81 1696.14,808.98 1700.13,807.14 1704.12,805.28 1708.11,803.41 1712.10,801.52 1716.09,799.62 1720.08,797.70 1724.07,795.77 1728.06,793.82 1732.05,791.86 1736.04,789.88 1740.03,787.89 1744.02,785.88 1748.01,783.86 1752.00,781.83 1755.99,779.78 1759.98,777.72 1763.97,775.65 1767.96,773.56 1771.95,771.47 1775.94,769.36 1779.93,767.23 1783.92,765.10 1787.91,762.95 1791.90,760.80 1795.89,758.63 1799.88,756.45 1803.87,754.26 1807.86,752.06 1811.85,749.85 1815.84,747.63 1819.83,745.40 1823.82,743.17 1827.82,740.92 1831.81,738.67 1835.80,736.40 1839.79,734.13 1843.78,731.86 1847.77,729.57 1851.76,727.28 1855.75,724.99 1859.74,722.68 1863.73,720.38 1867.72,718.06 1871.71,715.74 1875.70,713.42 1879.69,711.09 1883.68,708.76 1887.67,706.43 1891.66,704.09 1895.65,701.75 1899.64,699.40 1903.63,697.06 1907.62,694.71 1911.61,692.36 1915.60,690.01 1919.59,687.66 1923.58,685.31 1927.57,682.96 1931.56,680.61 1935.55,678.25 1939.54,675.90" fill="none" stroke="#c100c1" stroke-width="3.3" stroke-linejoin="round" clip-path="url(#cb1)" stroke-dasharray="9.2 7.9" stroke-dashoffset="7.1"/>
<line x1="1068.79" y1="629.2" x2="1068.79" y2="616.45" stroke="#000" stroke-width="3.3"/>
<line x1="1256.21" y1="629.2" x2="1256.21" y2="616.45" stroke="#000" stroke-width="3.3"/>
<line x1="1503.96" y1="629.2" x2="1503.96" y2="616.45" stroke="#000" stroke-width="3.3"/>
<line x1="1691.38" y1="629.2" x2="1691.38" y2="616.45" stroke="#000" stroke-width="3.3"/>
<line x1="1878.8" y1="629.2" x2="1878.8" y2="616.45" stroke="#000" stroke-width="3.3"/>
<line x1="1365.84" y1="629.2" x2="1365.84" y2="622.6" stroke="#000" stroke-width="3.3"/>
<line x1="1443.63" y1="629.2" x2="1443.63" y2="622.6" stroke="#000" stroke-width="3.3"/>
<line x1="1553.26" y1="629.2" x2="1553.26" y2="622.6" stroke="#000" stroke-width="3.3"/>
<line x1="1594.94" y1="629.2" x2="1594.94" y2="622.6" stroke="#000" stroke-width="3.3"/>
<line x1="1631.05" y1="629.2" x2="1631.05" y2="622.6" stroke="#000" stroke-width="3.3"/>
<line x1="1662.9" y1="629.2" x2="1662.9" y2="622.6" stroke="#000" stroke-width="3.3"/>
<line x1="1068.79" y1="89.1" x2="1068.79" y2="101.85" stroke="#000" stroke-width="3.3"/>
<line x1="1256.21" y1="89.1" x2="1256.21" y2="101.85" stroke="#000" stroke-width="3.3"/>
<line x1="1503.96" y1="89.1" x2="1503.96" y2="101.85" stroke="#000" stroke-width="3.3"/>
<line x1="1691.38" y1="89.1" x2="1691.38" y2="101.85" stroke="#000" stroke-width="3.3"/>
<line x1="1878.8" y1="89.1" x2="1878.8" y2="101.85" stroke="#000" stroke-width="3.3"/>
<line x1="1097.28" y1="89.1" x2="1097.28" y2="95.7" stroke="#000" stroke-width="3.3"/>
<line x1="1129.12" y1="89.1" x2="1129.12" y2="95.7" stroke="#000" stroke-width="3.3"/>
<line x1="1165.23" y1="89.1" x2="1165.23" y2="95.7" stroke="#000" stroke-width="3.3"/>
<line x1="1206.91" y1="89.1" x2="1206.91" y2="95.7" stroke="#000" stroke-width="3.3"/>
<line x1="1316.54" y1="89.1" x2="1316.54" y2="95.7" stroke="#000" stroke-width="3.3"/>
<line x1="1394.33" y1="89.1" x2="1394.33" y2="95.7" stroke="#000" stroke-width="3.3"/>
<line x1="1719.87" y1="89.1" x2="1719.87" y2="95.7" stroke="#000" stroke-width="3.3"/>
<line x1="1751.72" y1="89.1" x2="1751.72" y2="95.7" stroke="#000" stroke-width="3.3"/>
<line x1="1787.83" y1="89.1" x2="1787.83" y2="95.7" stroke="#000" stroke-width="3.3"/>
<line x1="1829.51" y1="89.1" x2="1829.51" y2="95.7" stroke="#000" stroke-width="3.3"/>
<line x1="1068.79" y1="957" x2="1068.79" y2="945" stroke="#000" stroke-width="3.3"/>
<line x1="1256.21" y1="957" x2="1256.21" y2="945" stroke="#000" stroke-width="3.3"/>
<line x1="1503.96" y1="957" x2="1503.96" y2="945" stroke="#000" stroke-width="3.3"/>
<line x1="1691.38" y1="957" x2="1691.38" y2="945" stroke="#000" stroke-width="3.3"/>
<line x1="1878.8" y1="957" x2="1878.8" y2="945" stroke="#000" stroke-width="3.3"/>
<line x1="1365.84" y1="957" x2="1365.84" y2="950.9" stroke="#000" stroke-width="3.3"/>
<line x1="1443.63" y1="957" x2="1443.63" y2="950.9" stroke="#000" stroke-width="3.3"/>
<line x1="1553.26" y1="957" x2="1553.26" y2="950.9" stroke="#000" stroke-width="3.3"/>
<line x1="1594.94" y1="957" x2="1594.94" y2="950.9" stroke="#000" stroke-width="3.3"/>
<line x1="1631.05" y1="957" x2="1631.05" y2="950.9" stroke="#000" stroke-width="3.3"/>
<line x1="1662.9" y1="957" x2="1662.9" y2="950.9" stroke="#000" stroke-width="3.3"/>
<line x1="1068.79" y1="639.8" x2="1068.79" y2="651.8" stroke="#000" stroke-width="3.3"/>
<line x1="1256.21" y1="639.8" x2="1256.21" y2="651.8" stroke="#000" stroke-width="3.3"/>
<line x1="1503.96" y1="639.8" x2="1503.96" y2="651.8" stroke="#000" stroke-width="3.3"/>
<line x1="1691.38" y1="639.8" x2="1691.38" y2="651.8" stroke="#000" stroke-width="3.3"/>
<line x1="1878.8" y1="639.8" x2="1878.8" y2="651.8" stroke="#000" stroke-width="3.3"/>
<line x1="1097.28" y1="639.8" x2="1097.28" y2="645.9" stroke="#000" stroke-width="3.3"/>
<line x1="1129.12" y1="639.8" x2="1129.12" y2="645.9" stroke="#000" stroke-width="3.3"/>
<line x1="1165.23" y1="639.8" x2="1165.23" y2="645.9" stroke="#000" stroke-width="3.3"/>
<line x1="1206.91" y1="639.8" x2="1206.91" y2="645.9" stroke="#000" stroke-width="3.3"/>
<line x1="1316.54" y1="639.8" x2="1316.54" y2="645.9" stroke="#000" stroke-width="3.3"/>
<line x1="1394.33" y1="639.8" x2="1394.33" y2="645.9" stroke="#000" stroke-width="3.3"/>
<line x1="1719.87" y1="639.8" x2="1719.87" y2="645.9" stroke="#000" stroke-width="3.3"/>
<line x1="1751.72" y1="639.8" x2="1751.72" y2="645.9" stroke="#000" stroke-width="3.3"/>
<line x1="1787.83" y1="639.8" x2="1787.83" y2="645.9" stroke="#000" stroke-width="3.3"/>
<line x1="1829.51" y1="639.8" x2="1829.51" y2="645.9" stroke="#000" stroke-width="3.3"/>
<line x1="1040.3" y1="582.35" x2="1052.5" y2="582.35" stroke="#000" stroke-width="3.3"/>
<line x1="1959.95" y1="582.35" x2="1947.75" y2="582.35" stroke="#000" stroke-width="3.3"/>
<line x1="1040.3" y1="535.86" x2="1046.4" y2="535.86" stroke="#000" stroke-width="3.3"/>
<line x1="1959.95" y1="535.86" x2="1953.85" y2="535.86" stroke="#000" stroke-width="3.3"/>
<line x1="1040.3" y1="489.37" x2="1052.5" y2="489.37" stroke="#000" stroke-width="3.3"/>
<line x1="1959.95" y1="489.37" x2="1947.75" y2="489.37" stroke="#000" stroke-width="3.3"/>
<line x1="1040.3" y1="442.88" x2="1046.4" y2="442.88" stroke="#000" stroke-width="3.3"/>
<line x1="1959.95" y1="442.88" x2="1953.85" y2="442.88" stroke="#000" stroke-width="3.3"/>
<line x1="1040.3" y1="396.39" x2="1052.5" y2="396.39" stroke="#000" stroke-width="3.3"/>
<line x1="1959.95" y1="396.39" x2="1947.75" y2="396.39" stroke="#000" stroke-width="3.3"/>
<line x1="1040.3" y1="349.9" x2="1046.4" y2="349.9" stroke="#000" stroke-width="3.3"/>
<line x1="1959.95" y1="349.9" x2="1953.85" y2="349.9" stroke="#000" stroke-width="3.3"/>
<line x1="1040.3" y1="303.41" x2="1052.5" y2="303.41" stroke="#000" stroke-width="3.3"/>
<line x1="1959.95" y1="303.41" x2="1947.75" y2="303.41" stroke="#000" stroke-width="3.3"/>
<line x1="1040.3" y1="256.92" x2="1046.4" y2="256.92" stroke="#000" stroke-width="3.3"/>
<line x1="1959.95" y1="256.92" x2="1953.85" y2="256.92" stroke="#000" stroke-width="3.3"/>
<line x1="1040.3" y1="210.43" x2="1052.5" y2="210.43" stroke="#000" stroke-width="3.3"/>
<line x1="1959.95" y1="210.43" x2="1947.75" y2="210.43" stroke="#000" stroke-width="3.3"/>
<line x1="1040.3" y1="163.94" x2="1046.4" y2="163.94" stroke="#000" stroke-width="3.3"/>
<line x1="1959.95" y1="163.94" x2="1953.85" y2="163.94" stroke="#000" stroke-width="3.3"/>
<line x1="1040.3" y1="117.45" x2="1052.5" y2="117.45" stroke="#000" stroke-width="3.3"/>
<line x1="1959.95" y1="117.45" x2="1947.75" y2="117.45" stroke="#000" stroke-width="3.3"/>
<line x1="1040.3" y1="911.69" x2="1046.4" y2="911.69" stroke="#000" stroke-width="3.3"/>
<line x1="1959.95" y1="911.69" x2="1953.85" y2="911.69" stroke="#000" stroke-width="3.3"/>
<line x1="1040.3" y1="866.37" x2="1052.5" y2="866.37" stroke="#000" stroke-width="3.3"/>
<line x1="1959.95" y1="866.37" x2="1947.75" y2="866.37" stroke="#000" stroke-width="3.3"/>
<line x1="1040.3" y1="821.06" x2="1046.4" y2="821.06" stroke="#000" stroke-width="3.3"/>
<line x1="1959.95" y1="821.06" x2="1953.85" y2="821.06" stroke="#000" stroke-width="3.3"/>
<line x1="1040.3" y1="775.74" x2="1052.5" y2="775.74" stroke="#000" stroke-width="3.3"/>
<line x1="1959.95" y1="775.74" x2="1947.75" y2="775.74" stroke="#000" stroke-width="3.3"/>
<line x1="1040.3" y1="730.43" x2="1046.4" y2="730.43" stroke="#000" stroke-width="3.3"/>
<line x1="1959.95" y1="730.43" x2="1953.85" y2="730.43" stroke="#000" stroke-width="3.3"/>
<line x1="1040.3" y1="685.11" x2="1052.5" y2="685.11" stroke="#000" stroke-width="3.3"/>
<line x1="1959.95" y1="685.11" x2="1947.75" y2="685.11" stroke="#000" stroke-width="3.3"/>
<rect x="1040.3" y="89.1" width="919.65" height="540.1" fill="none" stroke="#000" stroke-width="3.3"/>
<rect x="1040.3" y="639.8" width="919.65" height="317.2" fill="none" stroke="#000" stroke-width="3.3"/>
<text transform="translate(1500.12,23) scale(1,1.03)" text-anchor="middle" font-size="27.75">Profile length measured in correlation lengths L/T</text>
<text transform="translate(1500.12,1045) scale(1,1.03)" text-anchor="middle">Ratio α = T/L</text>
<text transform="translate(1068.79,70) scale(1,1.04)" text-anchor="middle">100</text>
<text transform="translate(1256.21,70) scale(1,1.04)" text-anchor="middle">50</text>
<text transform="translate(1503.96,70) scale(1,1.04)" text-anchor="middle">20</text>
<text transform="translate(1691.38,70) scale(1,1.04)" text-anchor="middle">10</text>
<text transform="translate(1878.8,70) scale(1,1.04)" text-anchor="middle">5</text>
<text transform="translate(1068.79,999) scale(1,1.04)" text-anchor="middle">0.01</text>
<text transform="translate(1256.21,999) scale(1,1.04)" text-anchor="middle">0.02</text>
<text transform="translate(1503.96,999) scale(1,1.04)" text-anchor="middle">0.05</text>
<text transform="translate(1691.38,999) scale(1,1.04)" text-anchor="middle">0.1</text>
<text transform="translate(1878.8,999) scale(1,1.04)" text-anchor="middle">0.2</text>
<text transform="translate(1942.95,148) scale(1,1.025)" text-anchor="end" font-weight="bold">Exponential ACF</text>
<text transform="translate(85.1,593) scale(1,1.04)" text-anchor="end">0.5</text>
<text transform="translate(85.1,500) scale(1,1.04)" text-anchor="end">0.6</text>
<text transform="translate(85.1,407) scale(1,1.04)" text-anchor="end">0.7</text>
<text transform="translate(85.1,314) scale(1,1.04)" text-anchor="end">0.8</text>
<text transform="translate(85.1,221) scale(1,1.04)" text-anchor="end">0.9</text>
<text transform="translate(85.1,128) scale(1,1.04)" text-anchor="end">1.0</text>
<text transform="translate(85.1,968) scale(1,1.04)" text-anchor="end">0.0</text>
<text transform="translate(85.1,877) scale(1,1.04)" text-anchor="end">0.1</text>
<text transform="translate(85.1,786) scale(1,1.04)" text-anchor="end">0.2</text>
<text transform="translate(85.1,696) scale(1,1.04)" text-anchor="end">0.3</text>
<text transform="translate(22.7,359.15) rotate(-90) scale(1,1.05)" text-anchor="middle">Ratio (1 − β) of biased σ<tspan dx="-14.05" dy="-3.1" font-size="25.5">ˆ</tspan><tspan dx="5.56" dy="3.1">²</tspan> to true σ²</text>
<text transform="translate(22.7,798.4) rotate(-90) scale(1,1.05)" text-anchor="middle">Relative std. deviation of σ<tspan dx="-14.05" dy="-3.1" font-size="25.5">ˆ</tspan><tspan dx="5.56" dy="3.1">²</tspan></text>
</svg>
</body></html>
